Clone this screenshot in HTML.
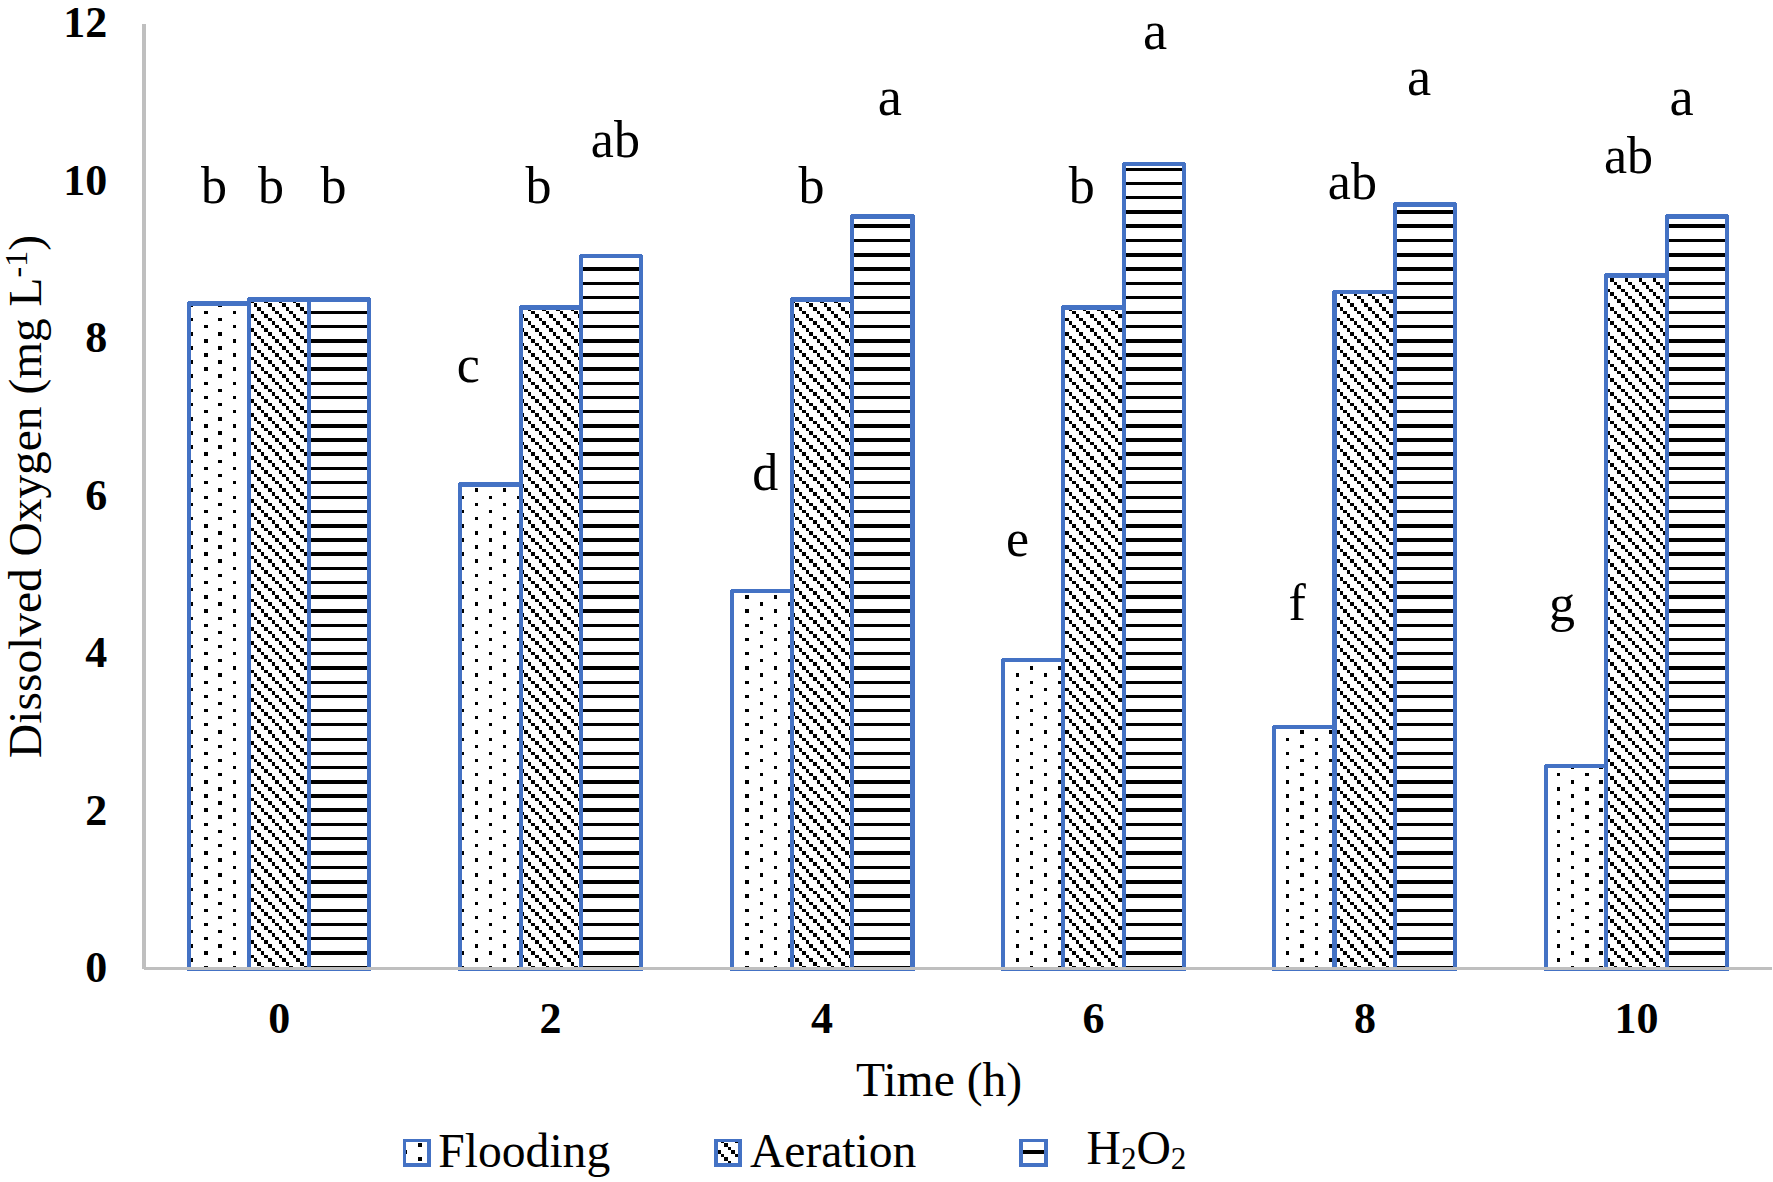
<!DOCTYPE html>
<html><head><meta charset="utf-8"><title>Dissolved Oxygen</title><style>
html,body{margin:0;padding:0;background:#fff;overflow:hidden}
svg{display:block}
text{font-family:"Liberation Serif","Times New Roman",serif;fill:#000}
.tk{font-weight:bold;font-size:44px}
.lt{font-size:52px}
.la{font-size:54.5px}
.ti{font-size:47.6px}
</style></head><body>
<svg width="1773" height="1182" viewBox="0 0 1773 1182">
<rect width="1773" height="1182" fill="#fff"/>
<rect x="142" y="24" width="4" height="945" fill="#BFBFBF"/>
<path d="M191 306h2v1h-2zM218 306h4v1h-4zM204 311h4v3h-4zM233 311h3v3h-3zM191 318h2v3h-2zM218 318h4v3h-4zM204 325h4v3h-4zM233 325h3v3h-3zM191 332h2v4h-2zM218 332h4v4h-4zM204 339h4v4h-4zM233 339h3v4h-3zM191 346h2v4h-2zM218 346h4v4h-4zM204 353h4v4h-4zM233 353h3v4h-3zM191 360h2v4h-2zM218 360h4v4h-4zM204 367h4v4h-4zM233 367h3v4h-3zM191 374h2v4h-2zM218 374h4v4h-4zM204 382h4v3h-4zM233 382h3v3h-3zM191 389h2v3h-2zM218 389h4v3h-4zM204 396h4v3h-4zM233 396h3v3h-3zM191 403h2v3h-2zM218 403h4v3h-4zM204 410h4v3h-4zM233 410h3v3h-3zM191 417h2v4h-2zM218 417h4v4h-4zM204 424h4v4h-4zM233 424h3v4h-3zM191 431h2v4h-2zM218 431h4v4h-4zM204 438h4v4h-4zM233 438h3v4h-3zM191 445h2v4h-2zM218 445h4v4h-4zM204 452h4v4h-4zM233 452h3v4h-3zM191 460h2v3h-2zM218 460h4v3h-4zM204 467h4v3h-4zM233 467h3v3h-3zM191 474h2v3h-2zM218 474h4v3h-4zM204 481h4v3h-4zM233 481h3v3h-3zM191 488h2v4h-2zM218 488h4v4h-4zM204 496h4v3h-4zM233 496h3v3h-3zM191 503h2v3h-2zM218 503h4v3h-4zM204 510h4v3h-4zM233 510h3v3h-3zM191 517h2v3h-2zM218 517h4v3h-4zM204 524h4v4h-4zM233 524h3v4h-3zM191 531h2v4h-2zM218 531h4v4h-4zM204 538h4v4h-4zM233 538h3v4h-3zM191 545h2v4h-2zM218 545h4v4h-4zM204 552h4v4h-4zM233 552h3v4h-3zM191 559h2v4h-2zM218 559h4v4h-4zM204 567h4v3h-4zM233 567h3v3h-3zM191 574h2v3h-2zM218 574h4v3h-4zM204 581h4v3h-4zM233 581h3v3h-3zM191 588h2v3h-2zM218 588h4v3h-4zM204 595h4v4h-4zM233 595h3v4h-3zM191 602h2v4h-2zM218 602h4v4h-4zM204 609h4v4h-4zM233 609h3v4h-3zM191 617h2v3h-2zM218 617h4v3h-4zM204 624h4v3h-4zM233 624h3v3h-3zM191 631h2v3h-2zM218 631h4v3h-4zM204 638h4v3h-4zM233 638h3v3h-3zM191 645h2v3h-2zM218 645h4v3h-4zM204 652h4v3h-4zM233 652h3v3h-3zM191 659h2v3h-2zM218 659h4v3h-4zM204 666h4v4h-4zM233 666h3v4h-3zM191 673h2v4h-2zM218 673h4v4h-4zM204 681h4v3h-4zM233 681h3v3h-3zM191 688h2v3h-2zM218 688h4v3h-4zM204 695h4v3h-4zM233 695h3v3h-3zM191 702h2v3h-2zM218 702h4v3h-4zM204 709h4v3h-4zM233 709h3v3h-3zM191 716h2v3h-2zM218 716h4v3h-4zM204 723h4v3h-4zM233 723h3v3h-3zM191 730h2v4h-2zM218 730h4v4h-4zM204 738h4v3h-4zM233 738h3v3h-3zM191 745h2v3h-2zM218 745h4v3h-4zM204 752h4v3h-4zM233 752h3v3h-3zM191 759h2v3h-2zM218 759h4v3h-4zM204 766h4v3h-4zM233 766h3v3h-3zM191 773h2v3h-2zM218 773h4v3h-4zM204 780h4v4h-4zM233 780h3v4h-3zM191 787h2v4h-2zM218 787h4v4h-4zM204 794h4v4h-4zM233 794h3v4h-3zM191 801h2v4h-2zM218 801h4v4h-4zM204 808h4v4h-4zM233 808h3v4h-3zM191 815h2v4h-2zM218 815h4v4h-4zM204 823h4v3h-4zM233 823h3v3h-3zM191 830h2v3h-2zM218 830h4v3h-4zM204 837h4v3h-4zM233 837h3v3h-3zM191 844h2v3h-2zM218 844h4v3h-4zM204 851h4v4h-4zM233 851h3v4h-3zM191 858h2v4h-2zM218 858h4v4h-4zM204 866h4v3h-4zM233 866h3v3h-3zM191 873h2v4h-2zM218 873h4v4h-4zM204 880h4v4h-4zM233 880h3v4h-3zM191 888h2v3h-2zM218 888h4v3h-4zM204 894h4v4h-4zM233 894h3v4h-3zM191 902h2v3h-2zM218 902h4v3h-4zM204 909h4v3h-4zM233 909h3v3h-3zM191 916h2v3h-2zM218 916h4v3h-4zM204 923h4v3h-4zM233 923h3v3h-3zM191 930h2v3h-2zM218 930h4v3h-4zM204 937h4v3h-4zM233 937h3v3h-3zM191 944h2v4h-2zM218 944h4v4h-4zM204 951h4v4h-4zM233 951h3v4h-3zM191 958h2v4h-2zM218 958h4v4h-4zM204 966h4v1h-4zM233 966h3v1h-3zM475 488h3v4h-3zM503 488h3v4h-3zM462 496h2v3h-2zM489 496h3v3h-3zM517 496h2v3h-2zM475 503h3v3h-3zM503 503h3v3h-3zM462 510h2v3h-2zM489 510h3v3h-3zM517 510h2v3h-2zM475 517h3v3h-3zM503 517h3v3h-3zM462 524h2v4h-2zM489 524h3v4h-3zM517 524h2v4h-2zM475 531h3v4h-3zM503 531h3v4h-3zM462 538h2v4h-2zM489 538h3v4h-3zM517 538h2v4h-2zM475 545h3v4h-3zM503 545h3v4h-3zM462 552h2v4h-2zM489 552h3v4h-3zM517 552h2v4h-2zM475 559h3v4h-3zM503 559h3v4h-3zM462 567h2v3h-2zM489 567h3v3h-3zM517 567h2v3h-2zM475 574h3v3h-3zM503 574h3v3h-3zM462 581h2v3h-2zM489 581h3v3h-3zM517 581h2v3h-2zM475 588h3v3h-3zM503 588h3v3h-3zM462 595h2v4h-2zM489 595h3v4h-3zM517 595h2v4h-2zM475 602h3v4h-3zM503 602h3v4h-3zM462 609h2v4h-2zM489 609h3v4h-3zM517 609h2v4h-2zM475 617h3v3h-3zM503 617h3v3h-3zM462 624h2v3h-2zM489 624h3v3h-3zM517 624h2v3h-2zM475 631h3v3h-3zM503 631h3v3h-3zM462 638h2v3h-2zM489 638h3v3h-3zM517 638h2v3h-2zM475 645h3v3h-3zM503 645h3v3h-3zM462 652h2v3h-2zM489 652h3v3h-3zM517 652h2v3h-2zM475 659h3v3h-3zM503 659h3v3h-3zM462 666h2v4h-2zM489 666h3v4h-3zM517 666h2v4h-2zM475 673h3v4h-3zM503 673h3v4h-3zM462 681h2v3h-2zM489 681h3v3h-3zM517 681h2v3h-2zM475 688h3v3h-3zM503 688h3v3h-3zM462 695h2v3h-2zM489 695h3v3h-3zM517 695h2v3h-2zM475 702h3v3h-3zM503 702h3v3h-3zM462 709h2v3h-2zM489 709h3v3h-3zM517 709h2v3h-2zM475 716h3v3h-3zM503 716h3v3h-3zM462 723h2v3h-2zM489 723h3v3h-3zM517 723h2v3h-2zM475 730h3v4h-3zM503 730h3v4h-3zM462 738h2v3h-2zM489 738h3v3h-3zM517 738h2v3h-2zM475 745h3v3h-3zM503 745h3v3h-3zM462 752h2v3h-2zM489 752h3v3h-3zM517 752h2v3h-2zM475 759h3v3h-3zM503 759h3v3h-3zM462 766h2v3h-2zM489 766h3v3h-3zM517 766h2v3h-2zM475 773h3v3h-3zM503 773h3v3h-3zM462 780h2v4h-2zM489 780h3v4h-3zM517 780h2v4h-2zM475 787h3v4h-3zM503 787h3v4h-3zM462 794h2v4h-2zM489 794h3v4h-3zM517 794h2v4h-2zM475 801h3v4h-3zM503 801h3v4h-3zM462 808h2v4h-2zM489 808h3v4h-3zM517 808h2v4h-2zM475 815h3v4h-3zM503 815h3v4h-3zM462 823h2v3h-2zM489 823h3v3h-3zM517 823h2v3h-2zM475 830h3v3h-3zM503 830h3v3h-3zM462 837h2v3h-2zM489 837h3v3h-3zM517 837h2v3h-2zM475 844h3v3h-3zM503 844h3v3h-3zM462 851h2v4h-2zM489 851h3v4h-3zM517 851h2v4h-2zM475 858h3v4h-3zM503 858h3v4h-3zM462 866h2v3h-2zM489 866h3v3h-3zM517 866h2v3h-2zM475 873h3v4h-3zM503 873h3v4h-3zM462 880h2v4h-2zM489 880h3v4h-3zM517 880h2v4h-2zM475 888h3v3h-3zM503 888h3v3h-3zM462 894h2v4h-2zM489 894h3v4h-3zM517 894h2v4h-2zM475 902h3v3h-3zM503 902h3v3h-3zM462 909h2v3h-2zM489 909h3v3h-3zM517 909h2v3h-2zM475 916h3v3h-3zM503 916h3v3h-3zM462 923h2v3h-2zM489 923h3v3h-3zM517 923h2v3h-2zM475 930h3v3h-3zM503 930h3v3h-3zM462 937h2v3h-2zM489 937h3v3h-3zM517 937h2v3h-2zM475 944h3v4h-3zM503 944h3v4h-3zM462 951h2v4h-2zM489 951h3v4h-3zM517 951h2v4h-2zM475 958h3v4h-3zM503 958h3v4h-3zM462 966h2v1h-2zM489 966h3v1h-3zM517 966h2v1h-2zM745 595h4v4h-4zM774 595h3v4h-3zM760 602h3v4h-3zM788 602h2v4h-2zM745 609h4v4h-4zM774 609h3v4h-3zM760 617h3v3h-3zM788 617h2v3h-2zM745 624h4v3h-4zM774 624h3v3h-3zM760 631h3v3h-3zM788 631h2v3h-2zM745 638h4v3h-4zM774 638h3v3h-3zM760 645h3v3h-3zM788 645h2v3h-2zM745 652h4v3h-4zM774 652h3v3h-3zM760 659h3v3h-3zM788 659h2v3h-2zM745 666h4v4h-4zM774 666h3v4h-3zM760 673h3v4h-3zM788 673h2v4h-2zM745 681h4v3h-4zM774 681h3v3h-3zM760 688h3v3h-3zM788 688h2v3h-2zM745 695h4v3h-4zM774 695h3v3h-3zM760 702h3v3h-3zM788 702h2v3h-2zM745 709h4v3h-4zM774 709h3v3h-3zM760 716h3v3h-3zM788 716h2v3h-2zM745 723h4v3h-4zM774 723h3v3h-3zM760 730h3v4h-3zM788 730h2v4h-2zM745 738h4v3h-4zM774 738h3v3h-3zM760 745h3v3h-3zM788 745h2v3h-2zM745 752h4v3h-4zM774 752h3v3h-3zM760 759h3v3h-3zM788 759h2v3h-2zM745 766h4v3h-4zM774 766h3v3h-3zM760 773h3v3h-3zM788 773h2v3h-2zM745 780h4v4h-4zM774 780h3v4h-3zM760 787h3v4h-3zM788 787h2v4h-2zM745 794h4v4h-4zM774 794h3v4h-3zM760 801h3v4h-3zM788 801h2v4h-2zM745 808h4v4h-4zM774 808h3v4h-3zM760 815h3v4h-3zM788 815h2v4h-2zM745 823h4v3h-4zM774 823h3v3h-3zM760 830h3v3h-3zM788 830h2v3h-2zM745 837h4v3h-4zM774 837h3v3h-3zM760 844h3v3h-3zM788 844h2v3h-2zM745 851h4v4h-4zM774 851h3v4h-3zM760 858h3v4h-3zM788 858h2v4h-2zM745 866h4v3h-4zM774 866h3v3h-3zM760 873h3v4h-3zM788 873h2v4h-2zM745 880h4v4h-4zM774 880h3v4h-3zM760 888h3v3h-3zM788 888h2v3h-2zM745 894h4v4h-4zM774 894h3v4h-3zM760 902h3v3h-3zM788 902h2v3h-2zM745 909h4v3h-4zM774 909h3v3h-3zM760 916h3v3h-3zM788 916h2v3h-2zM745 923h4v3h-4zM774 923h3v3h-3zM760 930h3v3h-3zM788 930h2v3h-2zM745 937h4v3h-4zM774 937h3v3h-3zM760 944h3v4h-3zM788 944h2v4h-2zM745 951h4v4h-4zM774 951h3v4h-3zM760 958h3v4h-3zM788 958h2v4h-2zM745 966h4v1h-4zM774 966h3v1h-3zM1030 666h3v4h-3zM1058 666h3v4h-3zM1016 673h3v4h-3zM1044 673h3v4h-3zM1030 681h3v3h-3zM1058 681h3v3h-3zM1016 688h3v3h-3zM1044 688h3v3h-3zM1030 695h3v3h-3zM1058 695h3v3h-3zM1016 702h3v3h-3zM1044 702h3v3h-3zM1030 709h3v3h-3zM1058 709h3v3h-3zM1016 716h3v3h-3zM1044 716h3v3h-3zM1030 723h3v3h-3zM1058 723h3v3h-3zM1016 730h3v4h-3zM1044 730h3v4h-3zM1030 738h3v3h-3zM1058 738h3v3h-3zM1016 745h3v3h-3zM1044 745h3v3h-3zM1030 752h3v3h-3zM1058 752h3v3h-3zM1016 759h3v3h-3zM1044 759h3v3h-3zM1030 766h3v3h-3zM1058 766h3v3h-3zM1016 773h3v3h-3zM1044 773h3v3h-3zM1030 780h3v4h-3zM1058 780h3v4h-3zM1016 787h3v4h-3zM1044 787h3v4h-3zM1030 794h3v4h-3zM1058 794h3v4h-3zM1016 801h3v4h-3zM1044 801h3v4h-3zM1030 808h3v4h-3zM1058 808h3v4h-3zM1016 815h3v4h-3zM1044 815h3v4h-3zM1030 823h3v3h-3zM1058 823h3v3h-3zM1016 830h3v3h-3zM1044 830h3v3h-3zM1030 837h3v3h-3zM1058 837h3v3h-3zM1016 844h3v3h-3zM1044 844h3v3h-3zM1030 851h3v4h-3zM1058 851h3v4h-3zM1016 858h3v4h-3zM1044 858h3v4h-3zM1030 866h3v3h-3zM1058 866h3v3h-3zM1016 873h3v4h-3zM1044 873h3v4h-3zM1030 880h3v4h-3zM1058 880h3v4h-3zM1016 888h3v3h-3zM1044 888h3v3h-3zM1030 894h3v4h-3zM1058 894h3v4h-3zM1016 902h3v3h-3zM1044 902h3v3h-3zM1030 909h3v3h-3zM1058 909h3v3h-3zM1016 916h3v3h-3zM1044 916h3v3h-3zM1030 923h3v3h-3zM1058 923h3v3h-3zM1016 930h3v3h-3zM1044 930h3v3h-3zM1030 937h3v3h-3zM1058 937h3v3h-3zM1016 944h3v4h-3zM1044 944h3v4h-3zM1030 951h3v4h-3zM1058 951h3v4h-3zM1016 958h3v4h-3zM1044 958h3v4h-3zM1030 966h3v1h-3zM1058 966h3v1h-3zM1300 730h4v4h-4zM1329 730h3v4h-3zM1286 738h3v3h-3zM1315 738h3v3h-3zM1300 745h4v3h-4zM1329 745h3v3h-3zM1286 752h3v3h-3zM1315 752h3v3h-3zM1300 759h4v3h-4zM1329 759h3v3h-3zM1286 766h3v3h-3zM1315 766h3v3h-3zM1300 773h4v3h-4zM1329 773h3v3h-3zM1286 780h3v4h-3zM1315 780h3v4h-3zM1300 787h4v4h-4zM1329 787h3v4h-3zM1286 794h3v4h-3zM1315 794h3v4h-3zM1300 801h4v4h-4zM1329 801h3v4h-3zM1286 808h3v4h-3zM1315 808h3v4h-3zM1300 815h4v4h-4zM1329 815h3v4h-3zM1286 823h3v3h-3zM1315 823h3v3h-3zM1300 830h4v3h-4zM1329 830h3v3h-3zM1286 837h3v3h-3zM1315 837h3v3h-3zM1300 844h4v3h-4zM1329 844h3v3h-3zM1286 851h3v4h-3zM1315 851h3v4h-3zM1300 858h4v4h-4zM1329 858h3v4h-3zM1286 866h3v3h-3zM1315 866h3v3h-3zM1300 873h4v4h-4zM1329 873h3v4h-3zM1286 880h3v4h-3zM1315 880h3v4h-3zM1300 888h4v3h-4zM1329 888h3v3h-3zM1286 894h3v4h-3zM1315 894h3v4h-3zM1300 902h4v3h-4zM1329 902h3v3h-3zM1286 909h3v3h-3zM1315 909h3v3h-3zM1300 916h4v3h-4zM1329 916h3v3h-3zM1286 923h3v3h-3zM1315 923h3v3h-3zM1300 930h4v3h-4zM1329 930h3v3h-3zM1286 937h3v3h-3zM1315 937h3v3h-3zM1300 944h4v4h-4zM1329 944h3v4h-3zM1286 951h3v4h-3zM1315 951h3v4h-3zM1300 958h4v4h-4zM1329 958h3v4h-3zM1286 966h3v1h-3zM1315 966h3v1h-3zM1571 768h3v1h-3zM1599 768h4v1h-4zM1557 773h3v3h-3zM1585 773h4v3h-4zM1571 780h3v4h-3zM1599 780h4v4h-4zM1557 787h3v4h-3zM1585 787h4v4h-4zM1571 794h3v4h-3zM1599 794h4v4h-4zM1557 801h3v4h-3zM1585 801h4v4h-4zM1571 808h3v4h-3zM1599 808h4v4h-4zM1557 815h3v4h-3zM1585 815h4v4h-4zM1571 823h3v3h-3zM1599 823h4v3h-4zM1557 830h3v3h-3zM1585 830h4v3h-4zM1571 837h3v3h-3zM1599 837h4v3h-4zM1557 844h3v3h-3zM1585 844h4v3h-4zM1571 851h3v4h-3zM1599 851h4v4h-4zM1557 858h3v4h-3zM1585 858h4v4h-4zM1571 866h3v3h-3zM1599 866h4v3h-4zM1557 873h3v4h-3zM1585 873h4v4h-4zM1571 880h3v4h-3zM1599 880h4v4h-4zM1557 888h3v3h-3zM1585 888h4v3h-4zM1571 894h3v4h-3zM1599 894h4v4h-4zM1557 902h3v3h-3zM1585 902h4v3h-4zM1571 909h3v3h-3zM1599 909h4v3h-4zM1557 916h3v3h-3zM1585 916h4v3h-4zM1571 923h3v3h-3zM1599 923h4v3h-4zM1557 930h3v3h-3zM1585 930h4v3h-4zM1571 937h3v3h-3zM1599 937h4v3h-4zM1557 944h3v4h-3zM1585 944h4v4h-4zM1571 951h3v4h-3zM1599 951h4v4h-4zM1557 958h3v4h-3zM1585 958h4v4h-4zM1571 966h3v1h-3zM1599 966h4v1h-4z" fill="#000"/>
<path d="M251 302h3v1h-3zM264 302h4v1h-4zM279 302h3v1h-3zM293 302h3v1h-3zM254 303h3v4h-3zM268 303h4v4h-4zM282 303h4v4h-4zM296 303h4v4h-4zM257 307h4v4h-4zM272 307h3v4h-3zM286 307h3v4h-3zM300 307h4v4h-4zM261 311h3v3h-3zM275 311h4v3h-4zM289 311h4v3h-4zM304 311h3v3h-3zM251 314h3v4h-3zM264 314h4v4h-4zM279 314h3v4h-3zM293 314h3v4h-3zM254 318h3v3h-3zM268 318h4v3h-4zM282 318h4v3h-4zM296 318h4v3h-4zM257 321h4v4h-4zM272 321h3v4h-3zM286 321h3v4h-3zM300 321h4v4h-4zM261 325h3v3h-3zM275 325h4v3h-4zM289 325h4v3h-4zM304 325h3v3h-3zM251 328h3v4h-3zM264 328h4v4h-4zM279 328h3v4h-3zM293 328h3v4h-3zM254 332h3v4h-3zM268 332h4v4h-4zM282 332h4v4h-4zM296 332h4v4h-4zM257 336h4v3h-4zM272 336h3v3h-3zM286 336h3v3h-3zM300 336h4v3h-4zM261 339h3v4h-3zM275 339h4v4h-4zM289 339h4v4h-4zM304 339h3v4h-3zM251 343h3v3h-3zM264 343h4v3h-4zM279 343h3v3h-3zM293 343h3v3h-3zM254 346h3v4h-3zM268 346h4v4h-4zM282 346h4v4h-4zM296 346h4v4h-4zM257 350h4v3h-4zM272 350h3v3h-3zM286 350h3v3h-3zM300 350h4v3h-4zM261 353h3v4h-3zM275 353h4v4h-4zM289 353h4v4h-4zM304 353h3v4h-3zM251 357h3v3h-3zM264 357h4v3h-4zM279 357h3v3h-3zM293 357h3v3h-3zM254 360h3v4h-3zM268 360h4v4h-4zM282 360h4v4h-4zM296 360h4v4h-4zM257 364h4v3h-4zM272 364h3v3h-3zM286 364h3v3h-3zM300 364h4v3h-4zM261 367h3v4h-3zM275 367h4v4h-4zM289 367h4v4h-4zM304 367h3v4h-3zM251 371h3v3h-3zM264 371h4v3h-4zM279 371h3v3h-3zM293 371h3v3h-3zM254 374h3v4h-3zM268 374h4v4h-4zM282 374h4v4h-4zM296 374h4v4h-4zM257 378h4v4h-4zM272 378h3v4h-3zM286 378h3v4h-3zM300 378h4v4h-4zM261 382h3v3h-3zM275 382h4v3h-4zM289 382h4v3h-4zM304 382h3v3h-3zM251 385h3v4h-3zM264 385h4v4h-4zM279 385h3v4h-3zM293 385h3v4h-3zM254 389h3v3h-3zM268 389h4v3h-4zM282 389h4v3h-4zM296 389h4v3h-4zM257 392h4v4h-4zM272 392h3v4h-3zM286 392h3v4h-3zM300 392h4v4h-4zM261 396h3v3h-3zM275 396h4v3h-4zM289 396h4v3h-4zM304 396h3v3h-3zM251 399h3v4h-3zM264 399h4v4h-4zM279 399h3v4h-3zM293 399h3v4h-3zM254 403h3v3h-3zM268 403h4v3h-4zM282 403h4v3h-4zM296 403h4v3h-4zM257 406h4v4h-4zM272 406h3v4h-3zM286 406h3v4h-3zM300 406h4v4h-4zM261 410h3v3h-3zM275 410h4v3h-4zM289 410h4v3h-4zM304 410h3v3h-3zM251 413h3v4h-3zM264 413h4v4h-4zM279 413h3v4h-3zM293 413h3v4h-3zM254 417h3v4h-3zM268 417h4v4h-4zM282 417h4v4h-4zM296 417h4v4h-4zM257 421h4v3h-4zM272 421h3v3h-3zM286 421h3v3h-3zM300 421h4v3h-4zM261 424h3v4h-3zM275 424h4v4h-4zM289 424h4v4h-4zM304 424h3v4h-3zM251 428h3v3h-3zM264 428h4v3h-4zM279 428h3v3h-3zM293 428h3v3h-3zM254 431h3v4h-3zM268 431h4v4h-4zM282 431h4v4h-4zM296 431h4v4h-4zM257 435h4v3h-4zM272 435h3v3h-3zM286 435h3v3h-3zM300 435h4v3h-4zM261 438h3v4h-3zM275 438h4v4h-4zM289 438h4v4h-4zM304 438h3v4h-3zM251 442h3v3h-3zM264 442h4v3h-4zM279 442h3v3h-3zM293 442h3v3h-3zM254 445h3v4h-3zM268 445h4v4h-4zM282 445h4v4h-4zM296 445h4v4h-4zM257 449h4v3h-4zM272 449h3v3h-3zM286 449h3v3h-3zM300 449h4v3h-4zM261 452h3v4h-3zM275 452h4v4h-4zM289 452h4v4h-4zM304 452h3v4h-3zM251 456h3v4h-3zM264 456h4v4h-4zM279 456h3v4h-3zM293 456h3v4h-3zM254 460h3v3h-3zM268 460h4v3h-4zM282 460h4v3h-4zM296 460h4v3h-4zM257 463h4v4h-4zM272 463h3v4h-3zM286 463h3v4h-3zM300 463h4v4h-4zM261 467h3v3h-3zM275 467h4v3h-4zM289 467h4v3h-4zM304 467h3v3h-3zM251 470h3v4h-3zM264 470h4v4h-4zM279 470h3v4h-3zM293 470h3v4h-3zM254 474h3v3h-3zM268 474h4v3h-4zM282 474h4v3h-4zM296 474h4v3h-4zM257 477h4v4h-4zM272 477h3v4h-3zM286 477h3v4h-3zM300 477h4v4h-4zM261 481h3v3h-3zM275 481h4v3h-4zM289 481h4v3h-4zM304 481h3v3h-3zM251 484h3v4h-3zM264 484h4v4h-4zM279 484h3v4h-3zM293 484h3v4h-3zM254 488h3v4h-3zM268 488h4v4h-4zM282 488h4v4h-4zM296 488h4v4h-4zM257 492h4v4h-4zM272 492h3v4h-3zM286 492h3v4h-3zM300 492h4v4h-4zM261 496h3v3h-3zM275 496h4v3h-4zM289 496h4v3h-4zM304 496h3v3h-3zM251 499h3v4h-3zM264 499h4v4h-4zM279 499h3v4h-3zM293 499h3v4h-3zM254 503h3v3h-3zM268 503h4v3h-4zM282 503h4v3h-4zM296 503h4v3h-4zM257 506h4v4h-4zM272 506h3v4h-3zM286 506h3v4h-3zM300 506h4v4h-4zM261 510h3v3h-3zM275 510h4v3h-4zM289 510h4v3h-4zM304 510h3v3h-3zM251 513h3v4h-3zM264 513h4v4h-4zM279 513h3v4h-3zM293 513h3v4h-3zM254 517h3v3h-3zM268 517h4v3h-4zM282 517h4v3h-4zM296 517h4v3h-4zM257 520h4v4h-4zM272 520h3v4h-3zM286 520h3v4h-3zM300 520h4v4h-4zM261 524h3v4h-3zM275 524h4v4h-4zM289 524h4v4h-4zM304 524h3v4h-3zM251 528h3v3h-3zM264 528h4v3h-4zM279 528h3v3h-3zM293 528h3v3h-3zM254 531h3v4h-3zM268 531h4v4h-4zM282 531h4v4h-4zM296 531h4v4h-4zM257 535h4v3h-4zM272 535h3v3h-3zM286 535h3v3h-3zM300 535h4v3h-4zM261 538h3v4h-3zM275 538h4v4h-4zM289 538h4v4h-4zM304 538h3v4h-3zM251 542h3v3h-3zM264 542h4v3h-4zM279 542h3v3h-3zM293 542h3v3h-3zM254 545h3v4h-3zM268 545h4v4h-4zM282 545h4v4h-4zM296 545h4v4h-4zM257 549h4v3h-4zM272 549h3v3h-3zM286 549h3v3h-3zM300 549h4v3h-4zM261 552h3v4h-3zM275 552h4v4h-4zM289 552h4v4h-4zM304 552h3v4h-3zM251 556h3v3h-3zM264 556h4v3h-4zM279 556h3v3h-3zM293 556h3v3h-3zM254 559h3v4h-3zM268 559h4v4h-4zM282 559h4v4h-4zM296 559h4v4h-4zM257 563h4v4h-4zM272 563h3v4h-3zM286 563h3v4h-3zM300 563h4v4h-4zM261 567h3v3h-3zM275 567h4v3h-4zM289 567h4v3h-4zM304 567h3v3h-3zM251 570h3v4h-3zM264 570h4v4h-4zM279 570h3v4h-3zM293 570h3v4h-3zM254 574h3v3h-3zM268 574h4v3h-4zM282 574h4v3h-4zM296 574h4v3h-4zM257 577h4v4h-4zM272 577h3v4h-3zM286 577h3v4h-3zM300 577h4v4h-4zM261 581h3v3h-3zM275 581h4v3h-4zM289 581h4v3h-4zM304 581h3v3h-3zM251 584h3v4h-3zM264 584h4v4h-4zM279 584h3v4h-3zM293 584h3v4h-3zM254 588h3v3h-3zM268 588h4v3h-4zM282 588h4v3h-4zM296 588h4v3h-4zM257 591h4v4h-4zM272 591h3v4h-3zM286 591h3v4h-3zM300 591h4v4h-4zM261 595h3v4h-3zM275 595h4v4h-4zM289 595h4v4h-4zM304 595h3v4h-3zM251 599h3v3h-3zM264 599h4v3h-4zM279 599h3v3h-3zM293 599h3v3h-3zM254 602h3v4h-3zM268 602h4v4h-4zM282 602h4v4h-4zM296 602h4v4h-4zM257 606h4v3h-4zM272 606h3v3h-3zM286 606h3v3h-3zM300 606h4v3h-4zM261 609h3v4h-3zM275 609h4v4h-4zM289 609h4v4h-4zM304 609h3v4h-3zM251 613h3v4h-3zM264 613h4v4h-4zM279 613h3v4h-3zM293 613h3v4h-3zM254 617h3v3h-3zM268 617h4v3h-4zM282 617h4v3h-4zM296 617h4v3h-4zM257 620h4v4h-4zM272 620h3v4h-3zM286 620h3v4h-3zM300 620h4v4h-4zM261 624h3v3h-3zM275 624h4v3h-4zM289 624h4v3h-4zM304 624h3v3h-3zM251 627h3v4h-3zM264 627h4v4h-4zM279 627h3v4h-3zM293 627h3v4h-3zM254 631h3v3h-3zM268 631h4v3h-4zM282 631h4v3h-4zM296 631h4v3h-4zM257 634h4v4h-4zM272 634h3v4h-3zM286 634h3v4h-3zM300 634h4v4h-4zM261 638h3v3h-3zM275 638h4v3h-4zM289 638h4v3h-4zM304 638h3v3h-3zM251 641h3v4h-3zM264 641h4v4h-4zM279 641h3v4h-3zM293 641h3v4h-3zM254 645h3v3h-3zM268 645h4v3h-4zM282 645h4v3h-4zM296 645h4v3h-4zM257 648h4v4h-4zM272 648h3v4h-3zM286 648h3v4h-3zM300 648h4v4h-4zM261 652h3v3h-3zM275 652h4v3h-4zM289 652h4v3h-4zM304 652h3v3h-3zM251 655h3v4h-3zM264 655h4v4h-4zM279 655h3v4h-3zM293 655h3v4h-3zM254 659h3v3h-3zM268 659h4v3h-4zM282 659h4v3h-4zM296 659h4v3h-4zM257 662h4v4h-4zM272 662h3v4h-3zM286 662h3v4h-3zM300 662h4v4h-4zM261 666h3v4h-3zM275 666h4v4h-4zM289 666h4v4h-4zM304 666h3v4h-3zM251 670h3v3h-3zM264 670h4v3h-4zM279 670h3v3h-3zM293 670h3v3h-3zM254 673h3v4h-3zM268 673h4v4h-4zM282 673h4v4h-4zM296 673h4v4h-4zM257 677h4v4h-4zM272 677h3v4h-3zM286 677h3v4h-3zM300 677h4v4h-4zM261 681h3v3h-3zM275 681h4v3h-4zM289 681h4v3h-4zM304 681h3v3h-3zM251 684h3v4h-3zM264 684h4v4h-4zM279 684h3v4h-3zM293 684h3v4h-3zM254 688h3v3h-3zM268 688h4v3h-4zM282 688h4v3h-4zM296 688h4v3h-4zM257 691h4v4h-4zM272 691h3v4h-3zM286 691h3v4h-3zM300 691h4v4h-4zM261 695h3v3h-3zM275 695h4v3h-4zM289 695h4v3h-4zM304 695h3v3h-3zM251 698h3v4h-3zM264 698h4v4h-4zM279 698h3v4h-3zM293 698h3v4h-3zM254 702h3v3h-3zM268 702h4v3h-4zM282 702h4v3h-4zM296 702h4v3h-4zM257 705h4v4h-4zM272 705h3v4h-3zM286 705h3v4h-3zM300 705h4v4h-4zM261 709h3v3h-3zM275 709h4v3h-4zM289 709h4v3h-4zM304 709h3v3h-3zM251 712h3v4h-3zM264 712h4v4h-4zM279 712h3v4h-3zM293 712h3v4h-3zM254 716h3v3h-3zM268 716h4v3h-4zM282 716h4v3h-4zM296 716h4v3h-4zM257 719h4v4h-4zM272 719h3v4h-3zM286 719h3v4h-3zM300 719h4v4h-4zM261 723h3v3h-3zM275 723h4v3h-4zM289 723h4v3h-4zM304 723h3v3h-3zM251 726h3v4h-3zM264 726h4v4h-4zM279 726h3v4h-3zM293 726h3v4h-3zM254 730h3v4h-3zM268 730h4v4h-4zM282 730h4v4h-4zM296 730h4v4h-4zM257 734h4v4h-4zM272 734h3v4h-3zM286 734h3v4h-3zM300 734h4v4h-4zM261 738h3v3h-3zM275 738h4v3h-4zM289 738h4v3h-4zM304 738h3v3h-3zM251 741h3v4h-3zM264 741h4v4h-4zM279 741h3v4h-3zM293 741h3v4h-3zM254 745h3v3h-3zM268 745h4v3h-4zM282 745h4v3h-4zM296 745h4v3h-4zM257 748h4v4h-4zM272 748h3v4h-3zM286 748h3v4h-3zM300 748h4v4h-4zM261 752h3v3h-3zM275 752h4v3h-4zM289 752h4v3h-4zM304 752h3v3h-3zM251 755h3v4h-3zM264 755h4v4h-4zM279 755h3v4h-3zM293 755h3v4h-3zM254 759h3v3h-3zM268 759h4v3h-4zM282 759h4v3h-4zM296 759h4v3h-4zM257 762h4v4h-4zM272 762h3v4h-3zM286 762h3v4h-3zM300 762h4v4h-4zM261 766h3v3h-3zM275 766h4v3h-4zM289 766h4v3h-4zM304 766h3v3h-3zM251 769h3v4h-3zM264 769h4v4h-4zM279 769h3v4h-3zM293 769h3v4h-3zM254 773h3v3h-3zM268 773h4v3h-4zM282 773h4v3h-4zM296 773h4v3h-4zM257 776h4v4h-4zM272 776h3v4h-3zM286 776h3v4h-3zM300 776h4v4h-4zM261 780h3v4h-3zM275 780h4v4h-4zM289 780h4v4h-4zM304 780h3v4h-3zM251 784h3v3h-3zM264 784h4v3h-4zM279 784h3v3h-3zM293 784h3v3h-3zM254 787h3v4h-3zM268 787h4v4h-4zM282 787h4v4h-4zM296 787h4v4h-4zM257 791h4v3h-4zM272 791h3v3h-3zM286 791h3v3h-3zM300 791h4v3h-4zM261 794h3v4h-3zM275 794h4v4h-4zM289 794h4v4h-4zM304 794h3v4h-3zM251 798h3v3h-3zM264 798h4v3h-4zM279 798h3v3h-3zM293 798h3v3h-3zM254 801h3v4h-3zM268 801h4v4h-4zM282 801h4v4h-4zM296 801h4v4h-4zM257 805h4v3h-4zM272 805h3v3h-3zM286 805h3v3h-3zM300 805h4v3h-4zM261 808h3v4h-3zM275 808h4v4h-4zM289 808h4v4h-4zM304 808h3v4h-3zM251 812h3v3h-3zM264 812h4v3h-4zM279 812h3v3h-3zM293 812h3v3h-3zM254 815h3v4h-3zM268 815h4v4h-4zM282 815h4v4h-4zM296 815h4v4h-4zM257 819h4v4h-4zM272 819h3v4h-3zM286 819h3v4h-3zM300 819h4v4h-4zM261 823h3v3h-3zM275 823h4v3h-4zM289 823h4v3h-4zM304 823h3v3h-3zM251 826h3v4h-3zM264 826h4v4h-4zM279 826h3v4h-3zM293 826h3v4h-3zM254 830h3v3h-3zM268 830h4v3h-4zM282 830h4v3h-4zM296 830h4v3h-4zM257 833h4v4h-4zM272 833h3v4h-3zM286 833h3v4h-3zM300 833h4v4h-4zM261 837h3v3h-3zM275 837h4v3h-4zM289 837h4v3h-4zM304 837h3v3h-3zM251 840h3v4h-3zM264 840h4v4h-4zM279 840h3v4h-3zM293 840h3v4h-3zM254 844h3v3h-3zM268 844h4v3h-4zM282 844h4v3h-4zM296 844h4v3h-4zM257 847h4v4h-4zM272 847h3v4h-3zM286 847h3v4h-3zM300 847h4v4h-4zM261 851h3v4h-3zM275 851h4v4h-4zM289 851h4v4h-4zM304 851h3v4h-3zM251 855h3v3h-3zM264 855h4v3h-4zM279 855h3v3h-3zM293 855h3v3h-3zM254 858h3v4h-3zM268 858h4v4h-4zM282 858h4v4h-4zM296 858h4v4h-4zM257 862h4v4h-4zM272 862h3v4h-3zM286 862h3v4h-3zM300 862h4v4h-4zM261 866h3v3h-3zM275 866h4v3h-4zM289 866h4v3h-4zM304 866h3v3h-3zM251 869h3v4h-3zM264 869h4v4h-4zM279 869h3v4h-3zM293 869h3v4h-3zM254 873h3v4h-3zM268 873h4v4h-4zM282 873h4v4h-4zM296 873h4v4h-4zM257 877h4v3h-4zM272 877h3v3h-3zM286 877h3v3h-3zM300 877h4v3h-4zM261 880h3v4h-3zM275 880h4v4h-4zM289 880h4v4h-4zM304 880h3v4h-3zM251 884h3v4h-3zM264 884h4v4h-4zM279 884h3v4h-3zM293 884h3v4h-3zM254 888h3v3h-3zM268 888h4v3h-4zM282 888h4v3h-4zM296 888h4v3h-4zM257 891h4v3h-4zM272 891h3v3h-3zM286 891h3v3h-3zM300 891h4v3h-4zM261 894h3v4h-3zM275 894h4v4h-4zM289 894h4v4h-4zM304 894h3v4h-3zM251 898h3v4h-3zM264 898h4v4h-4zM279 898h3v4h-3zM293 898h3v4h-3zM254 902h3v3h-3zM268 902h4v3h-4zM282 902h4v3h-4zM296 902h4v3h-4zM257 905h4v4h-4zM272 905h3v4h-3zM286 905h3v4h-3zM300 905h4v4h-4zM261 909h3v3h-3zM275 909h4v3h-4zM289 909h4v3h-4zM304 909h3v3h-3zM251 912h3v4h-3zM264 912h4v4h-4zM279 912h3v4h-3zM293 912h3v4h-3zM254 916h3v3h-3zM268 916h4v3h-4zM282 916h4v3h-4zM296 916h4v3h-4zM257 919h4v4h-4zM272 919h3v4h-3zM286 919h3v4h-3zM300 919h4v4h-4zM261 923h3v3h-3zM275 923h4v3h-4zM289 923h4v3h-4zM304 923h3v3h-3zM251 926h3v4h-3zM264 926h4v4h-4zM279 926h3v4h-3zM293 926h3v4h-3zM254 930h3v3h-3zM268 930h4v3h-4zM282 930h4v3h-4zM296 930h4v3h-4zM257 933h4v4h-4zM272 933h3v4h-3zM286 933h3v4h-3zM300 933h4v4h-4zM261 937h3v3h-3zM275 937h4v3h-4zM289 937h4v3h-4zM304 937h3v3h-3zM251 940h3v4h-3zM264 940h4v4h-4zM279 940h3v4h-3zM293 940h3v4h-3zM254 944h3v4h-3zM268 944h4v4h-4zM282 944h4v4h-4zM296 944h4v4h-4zM257 948h4v3h-4zM272 948h3v3h-3zM286 948h3v3h-3zM300 948h4v3h-4zM261 951h3v4h-3zM275 951h4v4h-4zM289 951h4v4h-4zM304 951h3v4h-3zM251 955h3v3h-3zM264 955h4v3h-4zM279 955h3v3h-3zM293 955h3v3h-3zM254 958h3v4h-3zM268 958h4v4h-4zM282 958h4v4h-4zM296 958h4v4h-4zM257 962h4v4h-4zM272 962h3v4h-3zM286 962h3v4h-3zM300 962h4v4h-4zM261 966h3v1h-3zM275 966h4v1h-4zM289 966h4v1h-4zM304 966h3v1h-3zM528 310h3v1h-3zM542 310h4v1h-4zM556 310h4v1h-4zM571 310h3v1h-3zM531 311h4v3h-4zM546 311h3v3h-3zM560 311h3v3h-3zM574 311h4v3h-4zM523 314h1v4h-1zM535 314h4v4h-4zM549 314h4v4h-4zM563 314h4v4h-4zM578 314h1v4h-1zM524 318h4v3h-4zM539 318h3v3h-3zM553 318h3v3h-3zM567 318h4v3h-4zM528 321h3v4h-3zM542 321h4v4h-4zM556 321h4v4h-4zM571 321h3v4h-3zM531 325h4v3h-4zM546 325h3v3h-3zM560 325h3v3h-3zM574 325h4v3h-4zM523 328h1v4h-1zM535 328h4v4h-4zM549 328h4v4h-4zM563 328h4v4h-4zM578 328h1v4h-1zM524 332h4v4h-4zM539 332h3v4h-3zM553 332h3v4h-3zM567 332h4v4h-4zM528 336h3v3h-3zM542 336h4v3h-4zM556 336h4v3h-4zM571 336h3v3h-3zM531 339h4v4h-4zM546 339h3v4h-3zM560 339h3v4h-3zM574 339h4v4h-4zM523 343h1v3h-1zM535 343h4v3h-4zM549 343h4v3h-4zM563 343h4v3h-4zM578 343h1v3h-1zM524 346h4v4h-4zM539 346h3v4h-3zM553 346h3v4h-3zM567 346h4v4h-4zM528 350h3v3h-3zM542 350h4v3h-4zM556 350h4v3h-4zM571 350h3v3h-3zM531 353h4v4h-4zM546 353h3v4h-3zM560 353h3v4h-3zM574 353h4v4h-4zM523 357h1v3h-1zM535 357h4v3h-4zM549 357h4v3h-4zM563 357h4v3h-4zM578 357h1v3h-1zM524 360h4v4h-4zM539 360h3v4h-3zM553 360h3v4h-3zM567 360h4v4h-4zM528 364h3v3h-3zM542 364h4v3h-4zM556 364h4v3h-4zM571 364h3v3h-3zM531 367h4v4h-4zM546 367h3v4h-3zM560 367h3v4h-3zM574 367h4v4h-4zM523 371h1v3h-1zM535 371h4v3h-4zM549 371h4v3h-4zM563 371h4v3h-4zM578 371h1v3h-1zM524 374h4v4h-4zM539 374h3v4h-3zM553 374h3v4h-3zM567 374h4v4h-4zM528 378h3v4h-3zM542 378h4v4h-4zM556 378h4v4h-4zM571 378h3v4h-3zM531 382h4v3h-4zM546 382h3v3h-3zM560 382h3v3h-3zM574 382h4v3h-4zM523 385h1v4h-1zM535 385h4v4h-4zM549 385h4v4h-4zM563 385h4v4h-4zM578 385h1v4h-1zM524 389h4v3h-4zM539 389h3v3h-3zM553 389h3v3h-3zM567 389h4v3h-4zM528 392h3v4h-3zM542 392h4v4h-4zM556 392h4v4h-4zM571 392h3v4h-3zM531 396h4v3h-4zM546 396h3v3h-3zM560 396h3v3h-3zM574 396h4v3h-4zM523 399h1v4h-1zM535 399h4v4h-4zM549 399h4v4h-4zM563 399h4v4h-4zM578 399h1v4h-1zM524 403h4v3h-4zM539 403h3v3h-3zM553 403h3v3h-3zM567 403h4v3h-4zM528 406h3v4h-3zM542 406h4v4h-4zM556 406h4v4h-4zM571 406h3v4h-3zM531 410h4v3h-4zM546 410h3v3h-3zM560 410h3v3h-3zM574 410h4v3h-4zM523 413h1v4h-1zM535 413h4v4h-4zM549 413h4v4h-4zM563 413h4v4h-4zM578 413h1v4h-1zM524 417h4v4h-4zM539 417h3v4h-3zM553 417h3v4h-3zM567 417h4v4h-4zM528 421h3v3h-3zM542 421h4v3h-4zM556 421h4v3h-4zM571 421h3v3h-3zM531 424h4v4h-4zM546 424h3v4h-3zM560 424h3v4h-3zM574 424h4v4h-4zM523 428h1v3h-1zM535 428h4v3h-4zM549 428h4v3h-4zM563 428h4v3h-4zM578 428h1v3h-1zM524 431h4v4h-4zM539 431h3v4h-3zM553 431h3v4h-3zM567 431h4v4h-4zM528 435h3v3h-3zM542 435h4v3h-4zM556 435h4v3h-4zM571 435h3v3h-3zM531 438h4v4h-4zM546 438h3v4h-3zM560 438h3v4h-3zM574 438h4v4h-4zM523 442h1v3h-1zM535 442h4v3h-4zM549 442h4v3h-4zM563 442h4v3h-4zM578 442h1v3h-1zM524 445h4v4h-4zM539 445h3v4h-3zM553 445h3v4h-3zM567 445h4v4h-4zM528 449h3v3h-3zM542 449h4v3h-4zM556 449h4v3h-4zM571 449h3v3h-3zM531 452h4v4h-4zM546 452h3v4h-3zM560 452h3v4h-3zM574 452h4v4h-4zM523 456h1v4h-1zM535 456h4v4h-4zM549 456h4v4h-4zM563 456h4v4h-4zM578 456h1v4h-1zM524 460h4v3h-4zM539 460h3v3h-3zM553 460h3v3h-3zM567 460h4v3h-4zM528 463h3v4h-3zM542 463h4v4h-4zM556 463h4v4h-4zM571 463h3v4h-3zM531 467h4v3h-4zM546 467h3v3h-3zM560 467h3v3h-3zM574 467h4v3h-4zM523 470h1v4h-1zM535 470h4v4h-4zM549 470h4v4h-4zM563 470h4v4h-4zM578 470h1v4h-1zM524 474h4v3h-4zM539 474h3v3h-3zM553 474h3v3h-3zM567 474h4v3h-4zM528 477h3v4h-3zM542 477h4v4h-4zM556 477h4v4h-4zM571 477h3v4h-3zM531 481h4v3h-4zM546 481h3v3h-3zM560 481h3v3h-3zM574 481h4v3h-4zM523 484h1v4h-1zM535 484h4v4h-4zM549 484h4v4h-4zM563 484h4v4h-4zM578 484h1v4h-1zM524 488h4v4h-4zM539 488h3v4h-3zM553 488h3v4h-3zM567 488h4v4h-4zM528 492h3v4h-3zM542 492h4v4h-4zM556 492h4v4h-4zM571 492h3v4h-3zM531 496h4v3h-4zM546 496h3v3h-3zM560 496h3v3h-3zM574 496h4v3h-4zM523 499h1v4h-1zM535 499h4v4h-4zM549 499h4v4h-4zM563 499h4v4h-4zM578 499h1v4h-1zM524 503h4v3h-4zM539 503h3v3h-3zM553 503h3v3h-3zM567 503h4v3h-4zM528 506h3v4h-3zM542 506h4v4h-4zM556 506h4v4h-4zM571 506h3v4h-3zM531 510h4v3h-4zM546 510h3v3h-3zM560 510h3v3h-3zM574 510h4v3h-4zM523 513h1v4h-1zM535 513h4v4h-4zM549 513h4v4h-4zM563 513h4v4h-4zM578 513h1v4h-1zM524 517h4v3h-4zM539 517h3v3h-3zM553 517h3v3h-3zM567 517h4v3h-4zM528 520h3v4h-3zM542 520h4v4h-4zM556 520h4v4h-4zM571 520h3v4h-3zM531 524h4v4h-4zM546 524h3v4h-3zM560 524h3v4h-3zM574 524h4v4h-4zM523 528h1v3h-1zM535 528h4v3h-4zM549 528h4v3h-4zM563 528h4v3h-4zM578 528h1v3h-1zM524 531h4v4h-4zM539 531h3v4h-3zM553 531h3v4h-3zM567 531h4v4h-4zM528 535h3v3h-3zM542 535h4v3h-4zM556 535h4v3h-4zM571 535h3v3h-3zM531 538h4v4h-4zM546 538h3v4h-3zM560 538h3v4h-3zM574 538h4v4h-4zM523 542h1v3h-1zM535 542h4v3h-4zM549 542h4v3h-4zM563 542h4v3h-4zM578 542h1v3h-1zM524 545h4v4h-4zM539 545h3v4h-3zM553 545h3v4h-3zM567 545h4v4h-4zM528 549h3v3h-3zM542 549h4v3h-4zM556 549h4v3h-4zM571 549h3v3h-3zM531 552h4v4h-4zM546 552h3v4h-3zM560 552h3v4h-3zM574 552h4v4h-4zM523 556h1v3h-1zM535 556h4v3h-4zM549 556h4v3h-4zM563 556h4v3h-4zM578 556h1v3h-1zM524 559h4v4h-4zM539 559h3v4h-3zM553 559h3v4h-3zM567 559h4v4h-4zM528 563h3v4h-3zM542 563h4v4h-4zM556 563h4v4h-4zM571 563h3v4h-3zM531 567h4v3h-4zM546 567h3v3h-3zM560 567h3v3h-3zM574 567h4v3h-4zM523 570h1v4h-1zM535 570h4v4h-4zM549 570h4v4h-4zM563 570h4v4h-4zM578 570h1v4h-1zM524 574h4v3h-4zM539 574h3v3h-3zM553 574h3v3h-3zM567 574h4v3h-4zM528 577h3v4h-3zM542 577h4v4h-4zM556 577h4v4h-4zM571 577h3v4h-3zM531 581h4v3h-4zM546 581h3v3h-3zM560 581h3v3h-3zM574 581h4v3h-4zM523 584h1v4h-1zM535 584h4v4h-4zM549 584h4v4h-4zM563 584h4v4h-4zM578 584h1v4h-1zM524 588h4v3h-4zM539 588h3v3h-3zM553 588h3v3h-3zM567 588h4v3h-4zM528 591h3v4h-3zM542 591h4v4h-4zM556 591h4v4h-4zM571 591h3v4h-3zM531 595h4v4h-4zM546 595h3v4h-3zM560 595h3v4h-3zM574 595h4v4h-4zM523 599h1v3h-1zM535 599h4v3h-4zM549 599h4v3h-4zM563 599h4v3h-4zM578 599h1v3h-1zM524 602h4v4h-4zM539 602h3v4h-3zM553 602h3v4h-3zM567 602h4v4h-4zM528 606h3v3h-3zM542 606h4v3h-4zM556 606h4v3h-4zM571 606h3v3h-3zM531 609h4v4h-4zM546 609h3v4h-3zM560 609h3v4h-3zM574 609h4v4h-4zM523 613h1v4h-1zM535 613h4v4h-4zM549 613h4v4h-4zM563 613h4v4h-4zM578 613h1v4h-1zM524 617h4v3h-4zM539 617h3v3h-3zM553 617h3v3h-3zM567 617h4v3h-4zM528 620h3v4h-3zM542 620h4v4h-4zM556 620h4v4h-4zM571 620h3v4h-3zM531 624h4v3h-4zM546 624h3v3h-3zM560 624h3v3h-3zM574 624h4v3h-4zM523 627h1v4h-1zM535 627h4v4h-4zM549 627h4v4h-4zM563 627h4v4h-4zM578 627h1v4h-1zM524 631h4v3h-4zM539 631h3v3h-3zM553 631h3v3h-3zM567 631h4v3h-4zM528 634h3v4h-3zM542 634h4v4h-4zM556 634h4v4h-4zM571 634h3v4h-3zM531 638h4v3h-4zM546 638h3v3h-3zM560 638h3v3h-3zM574 638h4v3h-4zM523 641h1v4h-1zM535 641h4v4h-4zM549 641h4v4h-4zM563 641h4v4h-4zM578 641h1v4h-1zM524 645h4v3h-4zM539 645h3v3h-3zM553 645h3v3h-3zM567 645h4v3h-4zM528 648h3v4h-3zM542 648h4v4h-4zM556 648h4v4h-4zM571 648h3v4h-3zM531 652h4v3h-4zM546 652h3v3h-3zM560 652h3v3h-3zM574 652h4v3h-4zM523 655h1v4h-1zM535 655h4v4h-4zM549 655h4v4h-4zM563 655h4v4h-4zM578 655h1v4h-1zM524 659h4v3h-4zM539 659h3v3h-3zM553 659h3v3h-3zM567 659h4v3h-4zM528 662h3v4h-3zM542 662h4v4h-4zM556 662h4v4h-4zM571 662h3v4h-3zM531 666h4v4h-4zM546 666h3v4h-3zM560 666h3v4h-3zM574 666h4v4h-4zM523 670h1v3h-1zM535 670h4v3h-4zM549 670h4v3h-4zM563 670h4v3h-4zM578 670h1v3h-1zM524 673h4v4h-4zM539 673h3v4h-3zM553 673h3v4h-3zM567 673h4v4h-4zM528 677h3v4h-3zM542 677h4v4h-4zM556 677h4v4h-4zM571 677h3v4h-3zM531 681h4v3h-4zM546 681h3v3h-3zM560 681h3v3h-3zM574 681h4v3h-4zM523 684h1v4h-1zM535 684h4v4h-4zM549 684h4v4h-4zM563 684h4v4h-4zM578 684h1v4h-1zM524 688h4v3h-4zM539 688h3v3h-3zM553 688h3v3h-3zM567 688h4v3h-4zM528 691h3v4h-3zM542 691h4v4h-4zM556 691h4v4h-4zM571 691h3v4h-3zM531 695h4v3h-4zM546 695h3v3h-3zM560 695h3v3h-3zM574 695h4v3h-4zM523 698h1v4h-1zM535 698h4v4h-4zM549 698h4v4h-4zM563 698h4v4h-4zM578 698h1v4h-1zM524 702h4v3h-4zM539 702h3v3h-3zM553 702h3v3h-3zM567 702h4v3h-4zM528 705h3v4h-3zM542 705h4v4h-4zM556 705h4v4h-4zM571 705h3v4h-3zM531 709h4v3h-4zM546 709h3v3h-3zM560 709h3v3h-3zM574 709h4v3h-4zM523 712h1v4h-1zM535 712h4v4h-4zM549 712h4v4h-4zM563 712h4v4h-4zM578 712h1v4h-1zM524 716h4v3h-4zM539 716h3v3h-3zM553 716h3v3h-3zM567 716h4v3h-4zM528 719h3v4h-3zM542 719h4v4h-4zM556 719h4v4h-4zM571 719h3v4h-3zM531 723h4v3h-4zM546 723h3v3h-3zM560 723h3v3h-3zM574 723h4v3h-4zM523 726h1v4h-1zM535 726h4v4h-4zM549 726h4v4h-4zM563 726h4v4h-4zM578 726h1v4h-1zM524 730h4v4h-4zM539 730h3v4h-3zM553 730h3v4h-3zM567 730h4v4h-4zM528 734h3v4h-3zM542 734h4v4h-4zM556 734h4v4h-4zM571 734h3v4h-3zM531 738h4v3h-4zM546 738h3v3h-3zM560 738h3v3h-3zM574 738h4v3h-4zM523 741h1v4h-1zM535 741h4v4h-4zM549 741h4v4h-4zM563 741h4v4h-4zM578 741h1v4h-1zM524 745h4v3h-4zM539 745h3v3h-3zM553 745h3v3h-3zM567 745h4v3h-4zM528 748h3v4h-3zM542 748h4v4h-4zM556 748h4v4h-4zM571 748h3v4h-3zM531 752h4v3h-4zM546 752h3v3h-3zM560 752h3v3h-3zM574 752h4v3h-4zM523 755h1v4h-1zM535 755h4v4h-4zM549 755h4v4h-4zM563 755h4v4h-4zM578 755h1v4h-1zM524 759h4v3h-4zM539 759h3v3h-3zM553 759h3v3h-3zM567 759h4v3h-4zM528 762h3v4h-3zM542 762h4v4h-4zM556 762h4v4h-4zM571 762h3v4h-3zM531 766h4v3h-4zM546 766h3v3h-3zM560 766h3v3h-3zM574 766h4v3h-4zM523 769h1v4h-1zM535 769h4v4h-4zM549 769h4v4h-4zM563 769h4v4h-4zM578 769h1v4h-1zM524 773h4v3h-4zM539 773h3v3h-3zM553 773h3v3h-3zM567 773h4v3h-4zM528 776h3v4h-3zM542 776h4v4h-4zM556 776h4v4h-4zM571 776h3v4h-3zM531 780h4v4h-4zM546 780h3v4h-3zM560 780h3v4h-3zM574 780h4v4h-4zM523 784h1v3h-1zM535 784h4v3h-4zM549 784h4v3h-4zM563 784h4v3h-4zM578 784h1v3h-1zM524 787h4v4h-4zM539 787h3v4h-3zM553 787h3v4h-3zM567 787h4v4h-4zM528 791h3v3h-3zM542 791h4v3h-4zM556 791h4v3h-4zM571 791h3v3h-3zM531 794h4v4h-4zM546 794h3v4h-3zM560 794h3v4h-3zM574 794h4v4h-4zM523 798h1v3h-1zM535 798h4v3h-4zM549 798h4v3h-4zM563 798h4v3h-4zM578 798h1v3h-1zM524 801h4v4h-4zM539 801h3v4h-3zM553 801h3v4h-3zM567 801h4v4h-4zM528 805h3v3h-3zM542 805h4v3h-4zM556 805h4v3h-4zM571 805h3v3h-3zM531 808h4v4h-4zM546 808h3v4h-3zM560 808h3v4h-3zM574 808h4v4h-4zM523 812h1v3h-1zM535 812h4v3h-4zM549 812h4v3h-4zM563 812h4v3h-4zM578 812h1v3h-1zM524 815h4v4h-4zM539 815h3v4h-3zM553 815h3v4h-3zM567 815h4v4h-4zM528 819h3v4h-3zM542 819h4v4h-4zM556 819h4v4h-4zM571 819h3v4h-3zM531 823h4v3h-4zM546 823h3v3h-3zM560 823h3v3h-3zM574 823h4v3h-4zM523 826h1v4h-1zM535 826h4v4h-4zM549 826h4v4h-4zM563 826h4v4h-4zM578 826h1v4h-1zM524 830h4v3h-4zM539 830h3v3h-3zM553 830h3v3h-3zM567 830h4v3h-4zM528 833h3v4h-3zM542 833h4v4h-4zM556 833h4v4h-4zM571 833h3v4h-3zM531 837h4v3h-4zM546 837h3v3h-3zM560 837h3v3h-3zM574 837h4v3h-4zM523 840h1v4h-1zM535 840h4v4h-4zM549 840h4v4h-4zM563 840h4v4h-4zM578 840h1v4h-1zM524 844h4v3h-4zM539 844h3v3h-3zM553 844h3v3h-3zM567 844h4v3h-4zM528 847h3v4h-3zM542 847h4v4h-4zM556 847h4v4h-4zM571 847h3v4h-3zM531 851h4v4h-4zM546 851h3v4h-3zM560 851h3v4h-3zM574 851h4v4h-4zM523 855h1v3h-1zM535 855h4v3h-4zM549 855h4v3h-4zM563 855h4v3h-4zM578 855h1v3h-1zM524 858h4v4h-4zM539 858h3v4h-3zM553 858h3v4h-3zM567 858h4v4h-4zM528 862h3v4h-3zM542 862h4v4h-4zM556 862h4v4h-4zM571 862h3v4h-3zM531 866h4v3h-4zM546 866h3v3h-3zM560 866h3v3h-3zM574 866h4v3h-4zM523 869h1v4h-1zM535 869h4v4h-4zM549 869h4v4h-4zM563 869h4v4h-4zM578 869h1v4h-1zM524 873h4v4h-4zM539 873h3v4h-3zM553 873h3v4h-3zM567 873h4v4h-4zM528 877h3v3h-3zM542 877h4v3h-4zM556 877h4v3h-4zM571 877h3v3h-3zM531 880h4v4h-4zM546 880h3v4h-3zM560 880h3v4h-3zM574 880h4v4h-4zM523 884h1v4h-1zM535 884h4v4h-4zM549 884h4v4h-4zM563 884h4v4h-4zM578 884h1v4h-1zM524 888h4v3h-4zM539 888h3v3h-3zM553 888h3v3h-3zM567 888h4v3h-4zM528 891h3v3h-3zM542 891h4v3h-4zM556 891h4v3h-4zM571 891h3v3h-3zM531 894h4v4h-4zM546 894h3v4h-3zM560 894h3v4h-3zM574 894h4v4h-4zM523 898h1v4h-1zM535 898h4v4h-4zM549 898h4v4h-4zM563 898h4v4h-4zM578 898h1v4h-1zM524 902h4v3h-4zM539 902h3v3h-3zM553 902h3v3h-3zM567 902h4v3h-4zM528 905h3v4h-3zM542 905h4v4h-4zM556 905h4v4h-4zM571 905h3v4h-3zM531 909h4v3h-4zM546 909h3v3h-3zM560 909h3v3h-3zM574 909h4v3h-4zM523 912h1v4h-1zM535 912h4v4h-4zM549 912h4v4h-4zM563 912h4v4h-4zM578 912h1v4h-1zM524 916h4v3h-4zM539 916h3v3h-3zM553 916h3v3h-3zM567 916h4v3h-4zM528 919h3v4h-3zM542 919h4v4h-4zM556 919h4v4h-4zM571 919h3v4h-3zM531 923h4v3h-4zM546 923h3v3h-3zM560 923h3v3h-3zM574 923h4v3h-4zM523 926h1v4h-1zM535 926h4v4h-4zM549 926h4v4h-4zM563 926h4v4h-4zM578 926h1v4h-1zM524 930h4v3h-4zM539 930h3v3h-3zM553 930h3v3h-3zM567 930h4v3h-4zM528 933h3v4h-3zM542 933h4v4h-4zM556 933h4v4h-4zM571 933h3v4h-3zM531 937h4v3h-4zM546 937h3v3h-3zM560 937h3v3h-3zM574 937h4v3h-4zM523 940h1v4h-1zM535 940h4v4h-4zM549 940h4v4h-4zM563 940h4v4h-4zM578 940h1v4h-1zM524 944h4v4h-4zM539 944h3v4h-3zM553 944h3v4h-3zM567 944h4v4h-4zM528 948h3v3h-3zM542 948h4v3h-4zM556 948h4v3h-4zM571 948h3v3h-3zM531 951h4v4h-4zM546 951h3v4h-3zM560 951h3v4h-3zM574 951h4v4h-4zM523 955h1v3h-1zM535 955h4v3h-4zM549 955h4v3h-4zM563 955h4v3h-4zM578 955h1v3h-1zM524 958h4v4h-4zM539 958h3v4h-3zM553 958h3v4h-3zM567 958h4v4h-4zM528 962h3v4h-3zM542 962h4v4h-4zM556 962h4v4h-4zM571 962h3v4h-3zM531 966h4v1h-4zM546 966h3v1h-3zM560 966h3v1h-3zM574 966h4v1h-4zM794 302h1v1h-1zM806 302h3v1h-3zM820 302h4v1h-4zM834 302h4v1h-4zM849 302h1v1h-1zM795 303h4v4h-4zM809 303h4v4h-4zM824 303h3v4h-3zM838 303h3v4h-3zM799 307h3v4h-3zM813 307h4v4h-4zM827 307h4v4h-4zM841 307h4v4h-4zM802 311h4v3h-4zM817 311h3v3h-3zM831 311h3v3h-3zM845 311h4v3h-4zM794 314h1v4h-1zM806 314h3v4h-3zM820 314h4v4h-4zM834 314h4v4h-4zM849 314h1v4h-1zM795 318h4v3h-4zM809 318h4v3h-4zM824 318h3v3h-3zM838 318h3v3h-3zM799 321h3v4h-3zM813 321h4v4h-4zM827 321h4v4h-4zM841 321h4v4h-4zM802 325h4v3h-4zM817 325h3v3h-3zM831 325h3v3h-3zM845 325h4v3h-4zM794 328h1v4h-1zM806 328h3v4h-3zM820 328h4v4h-4zM834 328h4v4h-4zM849 328h1v4h-1zM795 332h4v4h-4zM809 332h4v4h-4zM824 332h3v4h-3zM838 332h3v4h-3zM799 336h3v3h-3zM813 336h4v3h-4zM827 336h4v3h-4zM841 336h4v3h-4zM802 339h4v4h-4zM817 339h3v4h-3zM831 339h3v4h-3zM845 339h4v4h-4zM794 343h1v3h-1zM806 343h3v3h-3zM820 343h4v3h-4zM834 343h4v3h-4zM849 343h1v3h-1zM795 346h4v4h-4zM809 346h4v4h-4zM824 346h3v4h-3zM838 346h3v4h-3zM799 350h3v3h-3zM813 350h4v3h-4zM827 350h4v3h-4zM841 350h4v3h-4zM802 353h4v4h-4zM817 353h3v4h-3zM831 353h3v4h-3zM845 353h4v4h-4zM794 357h1v3h-1zM806 357h3v3h-3zM820 357h4v3h-4zM834 357h4v3h-4zM849 357h1v3h-1zM795 360h4v4h-4zM809 360h4v4h-4zM824 360h3v4h-3zM838 360h3v4h-3zM799 364h3v3h-3zM813 364h4v3h-4zM827 364h4v3h-4zM841 364h4v3h-4zM802 367h4v4h-4zM817 367h3v4h-3zM831 367h3v4h-3zM845 367h4v4h-4zM794 371h1v3h-1zM806 371h3v3h-3zM820 371h4v3h-4zM834 371h4v3h-4zM849 371h1v3h-1zM795 374h4v4h-4zM809 374h4v4h-4zM824 374h3v4h-3zM838 374h3v4h-3zM799 378h3v4h-3zM813 378h4v4h-4zM827 378h4v4h-4zM841 378h4v4h-4zM802 382h4v3h-4zM817 382h3v3h-3zM831 382h3v3h-3zM845 382h4v3h-4zM794 385h1v4h-1zM806 385h3v4h-3zM820 385h4v4h-4zM834 385h4v4h-4zM849 385h1v4h-1zM795 389h4v3h-4zM809 389h4v3h-4zM824 389h3v3h-3zM838 389h3v3h-3zM799 392h3v4h-3zM813 392h4v4h-4zM827 392h4v4h-4zM841 392h4v4h-4zM802 396h4v3h-4zM817 396h3v3h-3zM831 396h3v3h-3zM845 396h4v3h-4zM794 399h1v4h-1zM806 399h3v4h-3zM820 399h4v4h-4zM834 399h4v4h-4zM849 399h1v4h-1zM795 403h4v3h-4zM809 403h4v3h-4zM824 403h3v3h-3zM838 403h3v3h-3zM799 406h3v4h-3zM813 406h4v4h-4zM827 406h4v4h-4zM841 406h4v4h-4zM802 410h4v3h-4zM817 410h3v3h-3zM831 410h3v3h-3zM845 410h4v3h-4zM794 413h1v4h-1zM806 413h3v4h-3zM820 413h4v4h-4zM834 413h4v4h-4zM849 413h1v4h-1zM795 417h4v4h-4zM809 417h4v4h-4zM824 417h3v4h-3zM838 417h3v4h-3zM799 421h3v3h-3zM813 421h4v3h-4zM827 421h4v3h-4zM841 421h4v3h-4zM802 424h4v4h-4zM817 424h3v4h-3zM831 424h3v4h-3zM845 424h4v4h-4zM794 428h1v3h-1zM806 428h3v3h-3zM820 428h4v3h-4zM834 428h4v3h-4zM849 428h1v3h-1zM795 431h4v4h-4zM809 431h4v4h-4zM824 431h3v4h-3zM838 431h3v4h-3zM799 435h3v3h-3zM813 435h4v3h-4zM827 435h4v3h-4zM841 435h4v3h-4zM802 438h4v4h-4zM817 438h3v4h-3zM831 438h3v4h-3zM845 438h4v4h-4zM794 442h1v3h-1zM806 442h3v3h-3zM820 442h4v3h-4zM834 442h4v3h-4zM849 442h1v3h-1zM795 445h4v4h-4zM809 445h4v4h-4zM824 445h3v4h-3zM838 445h3v4h-3zM799 449h3v3h-3zM813 449h4v3h-4zM827 449h4v3h-4zM841 449h4v3h-4zM802 452h4v4h-4zM817 452h3v4h-3zM831 452h3v4h-3zM845 452h4v4h-4zM794 456h1v4h-1zM806 456h3v4h-3zM820 456h4v4h-4zM834 456h4v4h-4zM849 456h1v4h-1zM795 460h4v3h-4zM809 460h4v3h-4zM824 460h3v3h-3zM838 460h3v3h-3zM799 463h3v4h-3zM813 463h4v4h-4zM827 463h4v4h-4zM841 463h4v4h-4zM802 467h4v3h-4zM817 467h3v3h-3zM831 467h3v3h-3zM845 467h4v3h-4zM794 470h1v4h-1zM806 470h3v4h-3zM820 470h4v4h-4zM834 470h4v4h-4zM849 470h1v4h-1zM795 474h4v3h-4zM809 474h4v3h-4zM824 474h3v3h-3zM838 474h3v3h-3zM799 477h3v4h-3zM813 477h4v4h-4zM827 477h4v4h-4zM841 477h4v4h-4zM802 481h4v3h-4zM817 481h3v3h-3zM831 481h3v3h-3zM845 481h4v3h-4zM794 484h1v4h-1zM806 484h3v4h-3zM820 484h4v4h-4zM834 484h4v4h-4zM849 484h1v4h-1zM795 488h4v4h-4zM809 488h4v4h-4zM824 488h3v4h-3zM838 488h3v4h-3zM799 492h3v4h-3zM813 492h4v4h-4zM827 492h4v4h-4zM841 492h4v4h-4zM802 496h4v3h-4zM817 496h3v3h-3zM831 496h3v3h-3zM845 496h4v3h-4zM794 499h1v4h-1zM806 499h3v4h-3zM820 499h4v4h-4zM834 499h4v4h-4zM849 499h1v4h-1zM795 503h4v3h-4zM809 503h4v3h-4zM824 503h3v3h-3zM838 503h3v3h-3zM799 506h3v4h-3zM813 506h4v4h-4zM827 506h4v4h-4zM841 506h4v4h-4zM802 510h4v3h-4zM817 510h3v3h-3zM831 510h3v3h-3zM845 510h4v3h-4zM794 513h1v4h-1zM806 513h3v4h-3zM820 513h4v4h-4zM834 513h4v4h-4zM849 513h1v4h-1zM795 517h4v3h-4zM809 517h4v3h-4zM824 517h3v3h-3zM838 517h3v3h-3zM799 520h3v4h-3zM813 520h4v4h-4zM827 520h4v4h-4zM841 520h4v4h-4zM802 524h4v4h-4zM817 524h3v4h-3zM831 524h3v4h-3zM845 524h4v4h-4zM794 528h1v3h-1zM806 528h3v3h-3zM820 528h4v3h-4zM834 528h4v3h-4zM849 528h1v3h-1zM795 531h4v4h-4zM809 531h4v4h-4zM824 531h3v4h-3zM838 531h3v4h-3zM799 535h3v3h-3zM813 535h4v3h-4zM827 535h4v3h-4zM841 535h4v3h-4zM802 538h4v4h-4zM817 538h3v4h-3zM831 538h3v4h-3zM845 538h4v4h-4zM794 542h1v3h-1zM806 542h3v3h-3zM820 542h4v3h-4zM834 542h4v3h-4zM849 542h1v3h-1zM795 545h4v4h-4zM809 545h4v4h-4zM824 545h3v4h-3zM838 545h3v4h-3zM799 549h3v3h-3zM813 549h4v3h-4zM827 549h4v3h-4zM841 549h4v3h-4zM802 552h4v4h-4zM817 552h3v4h-3zM831 552h3v4h-3zM845 552h4v4h-4zM794 556h1v3h-1zM806 556h3v3h-3zM820 556h4v3h-4zM834 556h4v3h-4zM849 556h1v3h-1zM795 559h4v4h-4zM809 559h4v4h-4zM824 559h3v4h-3zM838 559h3v4h-3zM799 563h3v4h-3zM813 563h4v4h-4zM827 563h4v4h-4zM841 563h4v4h-4zM802 567h4v3h-4zM817 567h3v3h-3zM831 567h3v3h-3zM845 567h4v3h-4zM794 570h1v4h-1zM806 570h3v4h-3zM820 570h4v4h-4zM834 570h4v4h-4zM849 570h1v4h-1zM795 574h4v3h-4zM809 574h4v3h-4zM824 574h3v3h-3zM838 574h3v3h-3zM799 577h3v4h-3zM813 577h4v4h-4zM827 577h4v4h-4zM841 577h4v4h-4zM802 581h4v3h-4zM817 581h3v3h-3zM831 581h3v3h-3zM845 581h4v3h-4zM794 584h1v4h-1zM806 584h3v4h-3zM820 584h4v4h-4zM834 584h4v4h-4zM849 584h1v4h-1zM795 588h4v3h-4zM809 588h4v3h-4zM824 588h3v3h-3zM838 588h3v3h-3zM799 591h3v4h-3zM813 591h4v4h-4zM827 591h4v4h-4zM841 591h4v4h-4zM802 595h4v4h-4zM817 595h3v4h-3zM831 595h3v4h-3zM845 595h4v4h-4zM794 599h1v3h-1zM806 599h3v3h-3zM820 599h4v3h-4zM834 599h4v3h-4zM849 599h1v3h-1zM795 602h4v4h-4zM809 602h4v4h-4zM824 602h3v4h-3zM838 602h3v4h-3zM799 606h3v3h-3zM813 606h4v3h-4zM827 606h4v3h-4zM841 606h4v3h-4zM802 609h4v4h-4zM817 609h3v4h-3zM831 609h3v4h-3zM845 609h4v4h-4zM794 613h1v4h-1zM806 613h3v4h-3zM820 613h4v4h-4zM834 613h4v4h-4zM849 613h1v4h-1zM795 617h4v3h-4zM809 617h4v3h-4zM824 617h3v3h-3zM838 617h3v3h-3zM799 620h3v4h-3zM813 620h4v4h-4zM827 620h4v4h-4zM841 620h4v4h-4zM802 624h4v3h-4zM817 624h3v3h-3zM831 624h3v3h-3zM845 624h4v3h-4zM794 627h1v4h-1zM806 627h3v4h-3zM820 627h4v4h-4zM834 627h4v4h-4zM849 627h1v4h-1zM795 631h4v3h-4zM809 631h4v3h-4zM824 631h3v3h-3zM838 631h3v3h-3zM799 634h3v4h-3zM813 634h4v4h-4zM827 634h4v4h-4zM841 634h4v4h-4zM802 638h4v3h-4zM817 638h3v3h-3zM831 638h3v3h-3zM845 638h4v3h-4zM794 641h1v4h-1zM806 641h3v4h-3zM820 641h4v4h-4zM834 641h4v4h-4zM849 641h1v4h-1zM795 645h4v3h-4zM809 645h4v3h-4zM824 645h3v3h-3zM838 645h3v3h-3zM799 648h3v4h-3zM813 648h4v4h-4zM827 648h4v4h-4zM841 648h4v4h-4zM802 652h4v3h-4zM817 652h3v3h-3zM831 652h3v3h-3zM845 652h4v3h-4zM794 655h1v4h-1zM806 655h3v4h-3zM820 655h4v4h-4zM834 655h4v4h-4zM849 655h1v4h-1zM795 659h4v3h-4zM809 659h4v3h-4zM824 659h3v3h-3zM838 659h3v3h-3zM799 662h3v4h-3zM813 662h4v4h-4zM827 662h4v4h-4zM841 662h4v4h-4zM802 666h4v4h-4zM817 666h3v4h-3zM831 666h3v4h-3zM845 666h4v4h-4zM794 670h1v3h-1zM806 670h3v3h-3zM820 670h4v3h-4zM834 670h4v3h-4zM849 670h1v3h-1zM795 673h4v4h-4zM809 673h4v4h-4zM824 673h3v4h-3zM838 673h3v4h-3zM799 677h3v4h-3zM813 677h4v4h-4zM827 677h4v4h-4zM841 677h4v4h-4zM802 681h4v3h-4zM817 681h3v3h-3zM831 681h3v3h-3zM845 681h4v3h-4zM794 684h1v4h-1zM806 684h3v4h-3zM820 684h4v4h-4zM834 684h4v4h-4zM849 684h1v4h-1zM795 688h4v3h-4zM809 688h4v3h-4zM824 688h3v3h-3zM838 688h3v3h-3zM799 691h3v4h-3zM813 691h4v4h-4zM827 691h4v4h-4zM841 691h4v4h-4zM802 695h4v3h-4zM817 695h3v3h-3zM831 695h3v3h-3zM845 695h4v3h-4zM794 698h1v4h-1zM806 698h3v4h-3zM820 698h4v4h-4zM834 698h4v4h-4zM849 698h1v4h-1zM795 702h4v3h-4zM809 702h4v3h-4zM824 702h3v3h-3zM838 702h3v3h-3zM799 705h3v4h-3zM813 705h4v4h-4zM827 705h4v4h-4zM841 705h4v4h-4zM802 709h4v3h-4zM817 709h3v3h-3zM831 709h3v3h-3zM845 709h4v3h-4zM794 712h1v4h-1zM806 712h3v4h-3zM820 712h4v4h-4zM834 712h4v4h-4zM849 712h1v4h-1zM795 716h4v3h-4zM809 716h4v3h-4zM824 716h3v3h-3zM838 716h3v3h-3zM799 719h3v4h-3zM813 719h4v4h-4zM827 719h4v4h-4zM841 719h4v4h-4zM802 723h4v3h-4zM817 723h3v3h-3zM831 723h3v3h-3zM845 723h4v3h-4zM794 726h1v4h-1zM806 726h3v4h-3zM820 726h4v4h-4zM834 726h4v4h-4zM849 726h1v4h-1zM795 730h4v4h-4zM809 730h4v4h-4zM824 730h3v4h-3zM838 730h3v4h-3zM799 734h3v4h-3zM813 734h4v4h-4zM827 734h4v4h-4zM841 734h4v4h-4zM802 738h4v3h-4zM817 738h3v3h-3zM831 738h3v3h-3zM845 738h4v3h-4zM794 741h1v4h-1zM806 741h3v4h-3zM820 741h4v4h-4zM834 741h4v4h-4zM849 741h1v4h-1zM795 745h4v3h-4zM809 745h4v3h-4zM824 745h3v3h-3zM838 745h3v3h-3zM799 748h3v4h-3zM813 748h4v4h-4zM827 748h4v4h-4zM841 748h4v4h-4zM802 752h4v3h-4zM817 752h3v3h-3zM831 752h3v3h-3zM845 752h4v3h-4zM794 755h1v4h-1zM806 755h3v4h-3zM820 755h4v4h-4zM834 755h4v4h-4zM849 755h1v4h-1zM795 759h4v3h-4zM809 759h4v3h-4zM824 759h3v3h-3zM838 759h3v3h-3zM799 762h3v4h-3zM813 762h4v4h-4zM827 762h4v4h-4zM841 762h4v4h-4zM802 766h4v3h-4zM817 766h3v3h-3zM831 766h3v3h-3zM845 766h4v3h-4zM794 769h1v4h-1zM806 769h3v4h-3zM820 769h4v4h-4zM834 769h4v4h-4zM849 769h1v4h-1zM795 773h4v3h-4zM809 773h4v3h-4zM824 773h3v3h-3zM838 773h3v3h-3zM799 776h3v4h-3zM813 776h4v4h-4zM827 776h4v4h-4zM841 776h4v4h-4zM802 780h4v4h-4zM817 780h3v4h-3zM831 780h3v4h-3zM845 780h4v4h-4zM794 784h1v3h-1zM806 784h3v3h-3zM820 784h4v3h-4zM834 784h4v3h-4zM849 784h1v3h-1zM795 787h4v4h-4zM809 787h4v4h-4zM824 787h3v4h-3zM838 787h3v4h-3zM799 791h3v3h-3zM813 791h4v3h-4zM827 791h4v3h-4zM841 791h4v3h-4zM802 794h4v4h-4zM817 794h3v4h-3zM831 794h3v4h-3zM845 794h4v4h-4zM794 798h1v3h-1zM806 798h3v3h-3zM820 798h4v3h-4zM834 798h4v3h-4zM849 798h1v3h-1zM795 801h4v4h-4zM809 801h4v4h-4zM824 801h3v4h-3zM838 801h3v4h-3zM799 805h3v3h-3zM813 805h4v3h-4zM827 805h4v3h-4zM841 805h4v3h-4zM802 808h4v4h-4zM817 808h3v4h-3zM831 808h3v4h-3zM845 808h4v4h-4zM794 812h1v3h-1zM806 812h3v3h-3zM820 812h4v3h-4zM834 812h4v3h-4zM849 812h1v3h-1zM795 815h4v4h-4zM809 815h4v4h-4zM824 815h3v4h-3zM838 815h3v4h-3zM799 819h3v4h-3zM813 819h4v4h-4zM827 819h4v4h-4zM841 819h4v4h-4zM802 823h4v3h-4zM817 823h3v3h-3zM831 823h3v3h-3zM845 823h4v3h-4zM794 826h1v4h-1zM806 826h3v4h-3zM820 826h4v4h-4zM834 826h4v4h-4zM849 826h1v4h-1zM795 830h4v3h-4zM809 830h4v3h-4zM824 830h3v3h-3zM838 830h3v3h-3zM799 833h3v4h-3zM813 833h4v4h-4zM827 833h4v4h-4zM841 833h4v4h-4zM802 837h4v3h-4zM817 837h3v3h-3zM831 837h3v3h-3zM845 837h4v3h-4zM794 840h1v4h-1zM806 840h3v4h-3zM820 840h4v4h-4zM834 840h4v4h-4zM849 840h1v4h-1zM795 844h4v3h-4zM809 844h4v3h-4zM824 844h3v3h-3zM838 844h3v3h-3zM799 847h3v4h-3zM813 847h4v4h-4zM827 847h4v4h-4zM841 847h4v4h-4zM802 851h4v4h-4zM817 851h3v4h-3zM831 851h3v4h-3zM845 851h4v4h-4zM794 855h1v3h-1zM806 855h3v3h-3zM820 855h4v3h-4zM834 855h4v3h-4zM849 855h1v3h-1zM795 858h4v4h-4zM809 858h4v4h-4zM824 858h3v4h-3zM838 858h3v4h-3zM799 862h3v4h-3zM813 862h4v4h-4zM827 862h4v4h-4zM841 862h4v4h-4zM802 866h4v3h-4zM817 866h3v3h-3zM831 866h3v3h-3zM845 866h4v3h-4zM794 869h1v4h-1zM806 869h3v4h-3zM820 869h4v4h-4zM834 869h4v4h-4zM849 869h1v4h-1zM795 873h4v4h-4zM809 873h4v4h-4zM824 873h3v4h-3zM838 873h3v4h-3zM799 877h3v3h-3zM813 877h4v3h-4zM827 877h4v3h-4zM841 877h4v3h-4zM802 880h4v4h-4zM817 880h3v4h-3zM831 880h3v4h-3zM845 880h4v4h-4zM794 884h1v4h-1zM806 884h3v4h-3zM820 884h4v4h-4zM834 884h4v4h-4zM849 884h1v4h-1zM795 888h4v3h-4zM809 888h4v3h-4zM824 888h3v3h-3zM838 888h3v3h-3zM799 891h3v3h-3zM813 891h4v3h-4zM827 891h4v3h-4zM841 891h4v3h-4zM802 894h4v4h-4zM817 894h3v4h-3zM831 894h3v4h-3zM845 894h4v4h-4zM794 898h1v4h-1zM806 898h3v4h-3zM820 898h4v4h-4zM834 898h4v4h-4zM849 898h1v4h-1zM795 902h4v3h-4zM809 902h4v3h-4zM824 902h3v3h-3zM838 902h3v3h-3zM799 905h3v4h-3zM813 905h4v4h-4zM827 905h4v4h-4zM841 905h4v4h-4zM802 909h4v3h-4zM817 909h3v3h-3zM831 909h3v3h-3zM845 909h4v3h-4zM794 912h1v4h-1zM806 912h3v4h-3zM820 912h4v4h-4zM834 912h4v4h-4zM849 912h1v4h-1zM795 916h4v3h-4zM809 916h4v3h-4zM824 916h3v3h-3zM838 916h3v3h-3zM799 919h3v4h-3zM813 919h4v4h-4zM827 919h4v4h-4zM841 919h4v4h-4zM802 923h4v3h-4zM817 923h3v3h-3zM831 923h3v3h-3zM845 923h4v3h-4zM794 926h1v4h-1zM806 926h3v4h-3zM820 926h4v4h-4zM834 926h4v4h-4zM849 926h1v4h-1zM795 930h4v3h-4zM809 930h4v3h-4zM824 930h3v3h-3zM838 930h3v3h-3zM799 933h3v4h-3zM813 933h4v4h-4zM827 933h4v4h-4zM841 933h4v4h-4zM802 937h4v3h-4zM817 937h3v3h-3zM831 937h3v3h-3zM845 937h4v3h-4zM794 940h1v4h-1zM806 940h3v4h-3zM820 940h4v4h-4zM834 940h4v4h-4zM849 940h1v4h-1zM795 944h4v4h-4zM809 944h4v4h-4zM824 944h3v4h-3zM838 944h3v4h-3zM799 948h3v3h-3zM813 948h4v3h-4zM827 948h4v3h-4zM841 948h4v3h-4zM802 951h4v4h-4zM817 951h3v4h-3zM831 951h3v4h-3zM845 951h4v4h-4zM794 955h1v3h-1zM806 955h3v3h-3zM820 955h4v3h-4zM834 955h4v3h-4zM849 955h1v3h-1zM795 958h4v4h-4zM809 958h4v4h-4zM824 958h3v4h-3zM838 958h3v4h-3zM799 962h3v4h-3zM813 962h4v4h-4zM827 962h4v4h-4zM841 962h4v4h-4zM802 966h4v1h-4zM817 966h3v1h-3zM831 966h3v1h-3zM845 966h4v1h-4zM1069 310h3v1h-3zM1083 310h3v1h-3zM1097 310h4v1h-4zM1111 310h4v1h-4zM1072 311h4v3h-4zM1086 311h4v3h-4zM1101 311h3v3h-3zM1115 311h3v3h-3zM1076 314h3v4h-3zM1090 314h4v4h-4zM1104 314h4v4h-4zM1118 314h4v4h-4zM1065 318h4v3h-4zM1079 318h4v3h-4zM1094 318h3v3h-3zM1108 318h3v3h-3zM1069 321h3v4h-3zM1083 321h3v4h-3zM1097 321h4v4h-4zM1111 321h4v4h-4zM1072 325h4v3h-4zM1086 325h4v3h-4zM1101 325h3v3h-3zM1115 325h3v3h-3zM1076 328h3v4h-3zM1090 328h4v4h-4zM1104 328h4v4h-4zM1118 328h4v4h-4zM1065 332h4v4h-4zM1079 332h4v4h-4zM1094 332h3v4h-3zM1108 332h3v4h-3zM1069 336h3v3h-3zM1083 336h3v3h-3zM1097 336h4v3h-4zM1111 336h4v3h-4zM1072 339h4v4h-4zM1086 339h4v4h-4zM1101 339h3v4h-3zM1115 339h3v4h-3zM1076 343h3v3h-3zM1090 343h4v3h-4zM1104 343h4v3h-4zM1118 343h4v3h-4zM1065 346h4v4h-4zM1079 346h4v4h-4zM1094 346h3v4h-3zM1108 346h3v4h-3zM1069 350h3v3h-3zM1083 350h3v3h-3zM1097 350h4v3h-4zM1111 350h4v3h-4zM1072 353h4v4h-4zM1086 353h4v4h-4zM1101 353h3v4h-3zM1115 353h3v4h-3zM1076 357h3v3h-3zM1090 357h4v3h-4zM1104 357h4v3h-4zM1118 357h4v3h-4zM1065 360h4v4h-4zM1079 360h4v4h-4zM1094 360h3v4h-3zM1108 360h3v4h-3zM1069 364h3v3h-3zM1083 364h3v3h-3zM1097 364h4v3h-4zM1111 364h4v3h-4zM1072 367h4v4h-4zM1086 367h4v4h-4zM1101 367h3v4h-3zM1115 367h3v4h-3zM1076 371h3v3h-3zM1090 371h4v3h-4zM1104 371h4v3h-4zM1118 371h4v3h-4zM1065 374h4v4h-4zM1079 374h4v4h-4zM1094 374h3v4h-3zM1108 374h3v4h-3zM1069 378h3v4h-3zM1083 378h3v4h-3zM1097 378h4v4h-4zM1111 378h4v4h-4zM1072 382h4v3h-4zM1086 382h4v3h-4zM1101 382h3v3h-3zM1115 382h3v3h-3zM1076 385h3v4h-3zM1090 385h4v4h-4zM1104 385h4v4h-4zM1118 385h4v4h-4zM1065 389h4v3h-4zM1079 389h4v3h-4zM1094 389h3v3h-3zM1108 389h3v3h-3zM1069 392h3v4h-3zM1083 392h3v4h-3zM1097 392h4v4h-4zM1111 392h4v4h-4zM1072 396h4v3h-4zM1086 396h4v3h-4zM1101 396h3v3h-3zM1115 396h3v3h-3zM1076 399h3v4h-3zM1090 399h4v4h-4zM1104 399h4v4h-4zM1118 399h4v4h-4zM1065 403h4v3h-4zM1079 403h4v3h-4zM1094 403h3v3h-3zM1108 403h3v3h-3zM1069 406h3v4h-3zM1083 406h3v4h-3zM1097 406h4v4h-4zM1111 406h4v4h-4zM1072 410h4v3h-4zM1086 410h4v3h-4zM1101 410h3v3h-3zM1115 410h3v3h-3zM1076 413h3v4h-3zM1090 413h4v4h-4zM1104 413h4v4h-4zM1118 413h4v4h-4zM1065 417h4v4h-4zM1079 417h4v4h-4zM1094 417h3v4h-3zM1108 417h3v4h-3zM1069 421h3v3h-3zM1083 421h3v3h-3zM1097 421h4v3h-4zM1111 421h4v3h-4zM1072 424h4v4h-4zM1086 424h4v4h-4zM1101 424h3v4h-3zM1115 424h3v4h-3zM1076 428h3v3h-3zM1090 428h4v3h-4zM1104 428h4v3h-4zM1118 428h4v3h-4zM1065 431h4v4h-4zM1079 431h4v4h-4zM1094 431h3v4h-3zM1108 431h3v4h-3zM1069 435h3v3h-3zM1083 435h3v3h-3zM1097 435h4v3h-4zM1111 435h4v3h-4zM1072 438h4v4h-4zM1086 438h4v4h-4zM1101 438h3v4h-3zM1115 438h3v4h-3zM1076 442h3v3h-3zM1090 442h4v3h-4zM1104 442h4v3h-4zM1118 442h4v3h-4zM1065 445h4v4h-4zM1079 445h4v4h-4zM1094 445h3v4h-3zM1108 445h3v4h-3zM1069 449h3v3h-3zM1083 449h3v3h-3zM1097 449h4v3h-4zM1111 449h4v3h-4zM1072 452h4v4h-4zM1086 452h4v4h-4zM1101 452h3v4h-3zM1115 452h3v4h-3zM1076 456h3v4h-3zM1090 456h4v4h-4zM1104 456h4v4h-4zM1118 456h4v4h-4zM1065 460h4v3h-4zM1079 460h4v3h-4zM1094 460h3v3h-3zM1108 460h3v3h-3zM1069 463h3v4h-3zM1083 463h3v4h-3zM1097 463h4v4h-4zM1111 463h4v4h-4zM1072 467h4v3h-4zM1086 467h4v3h-4zM1101 467h3v3h-3zM1115 467h3v3h-3zM1076 470h3v4h-3zM1090 470h4v4h-4zM1104 470h4v4h-4zM1118 470h4v4h-4zM1065 474h4v3h-4zM1079 474h4v3h-4zM1094 474h3v3h-3zM1108 474h3v3h-3zM1069 477h3v4h-3zM1083 477h3v4h-3zM1097 477h4v4h-4zM1111 477h4v4h-4zM1072 481h4v3h-4zM1086 481h4v3h-4zM1101 481h3v3h-3zM1115 481h3v3h-3zM1076 484h3v4h-3zM1090 484h4v4h-4zM1104 484h4v4h-4zM1118 484h4v4h-4zM1065 488h4v4h-4zM1079 488h4v4h-4zM1094 488h3v4h-3zM1108 488h3v4h-3zM1069 492h3v4h-3zM1083 492h3v4h-3zM1097 492h4v4h-4zM1111 492h4v4h-4zM1072 496h4v3h-4zM1086 496h4v3h-4zM1101 496h3v3h-3zM1115 496h3v3h-3zM1076 499h3v4h-3zM1090 499h4v4h-4zM1104 499h4v4h-4zM1118 499h4v4h-4zM1065 503h4v3h-4zM1079 503h4v3h-4zM1094 503h3v3h-3zM1108 503h3v3h-3zM1069 506h3v4h-3zM1083 506h3v4h-3zM1097 506h4v4h-4zM1111 506h4v4h-4zM1072 510h4v3h-4zM1086 510h4v3h-4zM1101 510h3v3h-3zM1115 510h3v3h-3zM1076 513h3v4h-3zM1090 513h4v4h-4zM1104 513h4v4h-4zM1118 513h4v4h-4zM1065 517h4v3h-4zM1079 517h4v3h-4zM1094 517h3v3h-3zM1108 517h3v3h-3zM1069 520h3v4h-3zM1083 520h3v4h-3zM1097 520h4v4h-4zM1111 520h4v4h-4zM1072 524h4v4h-4zM1086 524h4v4h-4zM1101 524h3v4h-3zM1115 524h3v4h-3zM1076 528h3v3h-3zM1090 528h4v3h-4zM1104 528h4v3h-4zM1118 528h4v3h-4zM1065 531h4v4h-4zM1079 531h4v4h-4zM1094 531h3v4h-3zM1108 531h3v4h-3zM1069 535h3v3h-3zM1083 535h3v3h-3zM1097 535h4v3h-4zM1111 535h4v3h-4zM1072 538h4v4h-4zM1086 538h4v4h-4zM1101 538h3v4h-3zM1115 538h3v4h-3zM1076 542h3v3h-3zM1090 542h4v3h-4zM1104 542h4v3h-4zM1118 542h4v3h-4zM1065 545h4v4h-4zM1079 545h4v4h-4zM1094 545h3v4h-3zM1108 545h3v4h-3zM1069 549h3v3h-3zM1083 549h3v3h-3zM1097 549h4v3h-4zM1111 549h4v3h-4zM1072 552h4v4h-4zM1086 552h4v4h-4zM1101 552h3v4h-3zM1115 552h3v4h-3zM1076 556h3v3h-3zM1090 556h4v3h-4zM1104 556h4v3h-4zM1118 556h4v3h-4zM1065 559h4v4h-4zM1079 559h4v4h-4zM1094 559h3v4h-3zM1108 559h3v4h-3zM1069 563h3v4h-3zM1083 563h3v4h-3zM1097 563h4v4h-4zM1111 563h4v4h-4zM1072 567h4v3h-4zM1086 567h4v3h-4zM1101 567h3v3h-3zM1115 567h3v3h-3zM1076 570h3v4h-3zM1090 570h4v4h-4zM1104 570h4v4h-4zM1118 570h4v4h-4zM1065 574h4v3h-4zM1079 574h4v3h-4zM1094 574h3v3h-3zM1108 574h3v3h-3zM1069 577h3v4h-3zM1083 577h3v4h-3zM1097 577h4v4h-4zM1111 577h4v4h-4zM1072 581h4v3h-4zM1086 581h4v3h-4zM1101 581h3v3h-3zM1115 581h3v3h-3zM1076 584h3v4h-3zM1090 584h4v4h-4zM1104 584h4v4h-4zM1118 584h4v4h-4zM1065 588h4v3h-4zM1079 588h4v3h-4zM1094 588h3v3h-3zM1108 588h3v3h-3zM1069 591h3v4h-3zM1083 591h3v4h-3zM1097 591h4v4h-4zM1111 591h4v4h-4zM1072 595h4v4h-4zM1086 595h4v4h-4zM1101 595h3v4h-3zM1115 595h3v4h-3zM1076 599h3v3h-3zM1090 599h4v3h-4zM1104 599h4v3h-4zM1118 599h4v3h-4zM1065 602h4v4h-4zM1079 602h4v4h-4zM1094 602h3v4h-3zM1108 602h3v4h-3zM1069 606h3v3h-3zM1083 606h3v3h-3zM1097 606h4v3h-4zM1111 606h4v3h-4zM1072 609h4v4h-4zM1086 609h4v4h-4zM1101 609h3v4h-3zM1115 609h3v4h-3zM1076 613h3v4h-3zM1090 613h4v4h-4zM1104 613h4v4h-4zM1118 613h4v4h-4zM1065 617h4v3h-4zM1079 617h4v3h-4zM1094 617h3v3h-3zM1108 617h3v3h-3zM1069 620h3v4h-3zM1083 620h3v4h-3zM1097 620h4v4h-4zM1111 620h4v4h-4zM1072 624h4v3h-4zM1086 624h4v3h-4zM1101 624h3v3h-3zM1115 624h3v3h-3zM1076 627h3v4h-3zM1090 627h4v4h-4zM1104 627h4v4h-4zM1118 627h4v4h-4zM1065 631h4v3h-4zM1079 631h4v3h-4zM1094 631h3v3h-3zM1108 631h3v3h-3zM1069 634h3v4h-3zM1083 634h3v4h-3zM1097 634h4v4h-4zM1111 634h4v4h-4zM1072 638h4v3h-4zM1086 638h4v3h-4zM1101 638h3v3h-3zM1115 638h3v3h-3zM1076 641h3v4h-3zM1090 641h4v4h-4zM1104 641h4v4h-4zM1118 641h4v4h-4zM1065 645h4v3h-4zM1079 645h4v3h-4zM1094 645h3v3h-3zM1108 645h3v3h-3zM1069 648h3v4h-3zM1083 648h3v4h-3zM1097 648h4v4h-4zM1111 648h4v4h-4zM1072 652h4v3h-4zM1086 652h4v3h-4zM1101 652h3v3h-3zM1115 652h3v3h-3zM1076 655h3v4h-3zM1090 655h4v4h-4zM1104 655h4v4h-4zM1118 655h4v4h-4zM1065 659h4v3h-4zM1079 659h4v3h-4zM1094 659h3v3h-3zM1108 659h3v3h-3zM1069 662h3v4h-3zM1083 662h3v4h-3zM1097 662h4v4h-4zM1111 662h4v4h-4zM1072 666h4v4h-4zM1086 666h4v4h-4zM1101 666h3v4h-3zM1115 666h3v4h-3zM1076 670h3v3h-3zM1090 670h4v3h-4zM1104 670h4v3h-4zM1118 670h4v3h-4zM1065 673h4v4h-4zM1079 673h4v4h-4zM1094 673h3v4h-3zM1108 673h3v4h-3zM1069 677h3v4h-3zM1083 677h3v4h-3zM1097 677h4v4h-4zM1111 677h4v4h-4zM1072 681h4v3h-4zM1086 681h4v3h-4zM1101 681h3v3h-3zM1115 681h3v3h-3zM1076 684h3v4h-3zM1090 684h4v4h-4zM1104 684h4v4h-4zM1118 684h4v4h-4zM1065 688h4v3h-4zM1079 688h4v3h-4zM1094 688h3v3h-3zM1108 688h3v3h-3zM1069 691h3v4h-3zM1083 691h3v4h-3zM1097 691h4v4h-4zM1111 691h4v4h-4zM1072 695h4v3h-4zM1086 695h4v3h-4zM1101 695h3v3h-3zM1115 695h3v3h-3zM1076 698h3v4h-3zM1090 698h4v4h-4zM1104 698h4v4h-4zM1118 698h4v4h-4zM1065 702h4v3h-4zM1079 702h4v3h-4zM1094 702h3v3h-3zM1108 702h3v3h-3zM1069 705h3v4h-3zM1083 705h3v4h-3zM1097 705h4v4h-4zM1111 705h4v4h-4zM1072 709h4v3h-4zM1086 709h4v3h-4zM1101 709h3v3h-3zM1115 709h3v3h-3zM1076 712h3v4h-3zM1090 712h4v4h-4zM1104 712h4v4h-4zM1118 712h4v4h-4zM1065 716h4v3h-4zM1079 716h4v3h-4zM1094 716h3v3h-3zM1108 716h3v3h-3zM1069 719h3v4h-3zM1083 719h3v4h-3zM1097 719h4v4h-4zM1111 719h4v4h-4zM1072 723h4v3h-4zM1086 723h4v3h-4zM1101 723h3v3h-3zM1115 723h3v3h-3zM1076 726h3v4h-3zM1090 726h4v4h-4zM1104 726h4v4h-4zM1118 726h4v4h-4zM1065 730h4v4h-4zM1079 730h4v4h-4zM1094 730h3v4h-3zM1108 730h3v4h-3zM1069 734h3v4h-3zM1083 734h3v4h-3zM1097 734h4v4h-4zM1111 734h4v4h-4zM1072 738h4v3h-4zM1086 738h4v3h-4zM1101 738h3v3h-3zM1115 738h3v3h-3zM1076 741h3v4h-3zM1090 741h4v4h-4zM1104 741h4v4h-4zM1118 741h4v4h-4zM1065 745h4v3h-4zM1079 745h4v3h-4zM1094 745h3v3h-3zM1108 745h3v3h-3zM1069 748h3v4h-3zM1083 748h3v4h-3zM1097 748h4v4h-4zM1111 748h4v4h-4zM1072 752h4v3h-4zM1086 752h4v3h-4zM1101 752h3v3h-3zM1115 752h3v3h-3zM1076 755h3v4h-3zM1090 755h4v4h-4zM1104 755h4v4h-4zM1118 755h4v4h-4zM1065 759h4v3h-4zM1079 759h4v3h-4zM1094 759h3v3h-3zM1108 759h3v3h-3zM1069 762h3v4h-3zM1083 762h3v4h-3zM1097 762h4v4h-4zM1111 762h4v4h-4zM1072 766h4v3h-4zM1086 766h4v3h-4zM1101 766h3v3h-3zM1115 766h3v3h-3zM1076 769h3v4h-3zM1090 769h4v4h-4zM1104 769h4v4h-4zM1118 769h4v4h-4zM1065 773h4v3h-4zM1079 773h4v3h-4zM1094 773h3v3h-3zM1108 773h3v3h-3zM1069 776h3v4h-3zM1083 776h3v4h-3zM1097 776h4v4h-4zM1111 776h4v4h-4zM1072 780h4v4h-4zM1086 780h4v4h-4zM1101 780h3v4h-3zM1115 780h3v4h-3zM1076 784h3v3h-3zM1090 784h4v3h-4zM1104 784h4v3h-4zM1118 784h4v3h-4zM1065 787h4v4h-4zM1079 787h4v4h-4zM1094 787h3v4h-3zM1108 787h3v4h-3zM1069 791h3v3h-3zM1083 791h3v3h-3zM1097 791h4v3h-4zM1111 791h4v3h-4zM1072 794h4v4h-4zM1086 794h4v4h-4zM1101 794h3v4h-3zM1115 794h3v4h-3zM1076 798h3v3h-3zM1090 798h4v3h-4zM1104 798h4v3h-4zM1118 798h4v3h-4zM1065 801h4v4h-4zM1079 801h4v4h-4zM1094 801h3v4h-3zM1108 801h3v4h-3zM1069 805h3v3h-3zM1083 805h3v3h-3zM1097 805h4v3h-4zM1111 805h4v3h-4zM1072 808h4v4h-4zM1086 808h4v4h-4zM1101 808h3v4h-3zM1115 808h3v4h-3zM1076 812h3v3h-3zM1090 812h4v3h-4zM1104 812h4v3h-4zM1118 812h4v3h-4zM1065 815h4v4h-4zM1079 815h4v4h-4zM1094 815h3v4h-3zM1108 815h3v4h-3zM1069 819h3v4h-3zM1083 819h3v4h-3zM1097 819h4v4h-4zM1111 819h4v4h-4zM1072 823h4v3h-4zM1086 823h4v3h-4zM1101 823h3v3h-3zM1115 823h3v3h-3zM1076 826h3v4h-3zM1090 826h4v4h-4zM1104 826h4v4h-4zM1118 826h4v4h-4zM1065 830h4v3h-4zM1079 830h4v3h-4zM1094 830h3v3h-3zM1108 830h3v3h-3zM1069 833h3v4h-3zM1083 833h3v4h-3zM1097 833h4v4h-4zM1111 833h4v4h-4zM1072 837h4v3h-4zM1086 837h4v3h-4zM1101 837h3v3h-3zM1115 837h3v3h-3zM1076 840h3v4h-3zM1090 840h4v4h-4zM1104 840h4v4h-4zM1118 840h4v4h-4zM1065 844h4v3h-4zM1079 844h4v3h-4zM1094 844h3v3h-3zM1108 844h3v3h-3zM1069 847h3v4h-3zM1083 847h3v4h-3zM1097 847h4v4h-4zM1111 847h4v4h-4zM1072 851h4v4h-4zM1086 851h4v4h-4zM1101 851h3v4h-3zM1115 851h3v4h-3zM1076 855h3v3h-3zM1090 855h4v3h-4zM1104 855h4v3h-4zM1118 855h4v3h-4zM1065 858h4v4h-4zM1079 858h4v4h-4zM1094 858h3v4h-3zM1108 858h3v4h-3zM1069 862h3v4h-3zM1083 862h3v4h-3zM1097 862h4v4h-4zM1111 862h4v4h-4zM1072 866h4v3h-4zM1086 866h4v3h-4zM1101 866h3v3h-3zM1115 866h3v3h-3zM1076 869h3v4h-3zM1090 869h4v4h-4zM1104 869h4v4h-4zM1118 869h4v4h-4zM1065 873h4v4h-4zM1079 873h4v4h-4zM1094 873h3v4h-3zM1108 873h3v4h-3zM1069 877h3v3h-3zM1083 877h3v3h-3zM1097 877h4v3h-4zM1111 877h4v3h-4zM1072 880h4v4h-4zM1086 880h4v4h-4zM1101 880h3v4h-3zM1115 880h3v4h-3zM1076 884h3v4h-3zM1090 884h4v4h-4zM1104 884h4v4h-4zM1118 884h4v4h-4zM1065 888h4v3h-4zM1079 888h4v3h-4zM1094 888h3v3h-3zM1108 888h3v3h-3zM1069 891h3v3h-3zM1083 891h3v3h-3zM1097 891h4v3h-4zM1111 891h4v3h-4zM1072 894h4v4h-4zM1086 894h4v4h-4zM1101 894h3v4h-3zM1115 894h3v4h-3zM1076 898h3v4h-3zM1090 898h4v4h-4zM1104 898h4v4h-4zM1118 898h4v4h-4zM1065 902h4v3h-4zM1079 902h4v3h-4zM1094 902h3v3h-3zM1108 902h3v3h-3zM1069 905h3v4h-3zM1083 905h3v4h-3zM1097 905h4v4h-4zM1111 905h4v4h-4zM1072 909h4v3h-4zM1086 909h4v3h-4zM1101 909h3v3h-3zM1115 909h3v3h-3zM1076 912h3v4h-3zM1090 912h4v4h-4zM1104 912h4v4h-4zM1118 912h4v4h-4zM1065 916h4v3h-4zM1079 916h4v3h-4zM1094 916h3v3h-3zM1108 916h3v3h-3zM1069 919h3v4h-3zM1083 919h3v4h-3zM1097 919h4v4h-4zM1111 919h4v4h-4zM1072 923h4v3h-4zM1086 923h4v3h-4zM1101 923h3v3h-3zM1115 923h3v3h-3zM1076 926h3v4h-3zM1090 926h4v4h-4zM1104 926h4v4h-4zM1118 926h4v4h-4zM1065 930h4v3h-4zM1079 930h4v3h-4zM1094 930h3v3h-3zM1108 930h3v3h-3zM1069 933h3v4h-3zM1083 933h3v4h-3zM1097 933h4v4h-4zM1111 933h4v4h-4zM1072 937h4v3h-4zM1086 937h4v3h-4zM1101 937h3v3h-3zM1115 937h3v3h-3zM1076 940h3v4h-3zM1090 940h4v4h-4zM1104 940h4v4h-4zM1118 940h4v4h-4zM1065 944h4v4h-4zM1079 944h4v4h-4zM1094 944h3v4h-3zM1108 944h3v4h-3zM1069 948h3v3h-3zM1083 948h3v3h-3zM1097 948h4v3h-4zM1111 948h4v3h-4zM1072 951h4v4h-4zM1086 951h4v4h-4zM1101 951h3v4h-3zM1115 951h3v4h-3zM1076 955h3v3h-3zM1090 955h4v3h-4zM1104 955h4v3h-4zM1118 955h4v3h-4zM1065 958h4v4h-4zM1079 958h4v4h-4zM1094 958h3v4h-3zM1108 958h3v4h-3zM1069 962h3v4h-3zM1083 962h3v4h-3zM1097 962h4v4h-4zM1111 962h4v4h-4zM1072 966h4v1h-4zM1086 966h4v1h-4zM1101 966h3v1h-3zM1115 966h3v1h-3zM1340 294h3v2h-3zM1354 294h3v2h-3zM1368 294h4v2h-4zM1382 294h4v2h-4zM1343 296h4v3h-4zM1357 296h4v3h-4zM1372 296h3v3h-3zM1386 296h3v3h-3zM1347 299h3v4h-3zM1361 299h3v4h-3zM1375 299h4v4h-4zM1389 299h4v4h-4zM1337 303h3v4h-3zM1350 303h4v4h-4zM1364 303h4v4h-4zM1379 303h3v4h-3zM1340 307h3v4h-3zM1354 307h3v4h-3zM1368 307h4v4h-4zM1382 307h4v4h-4zM1343 311h4v3h-4zM1357 311h4v3h-4zM1372 311h3v3h-3zM1386 311h3v3h-3zM1347 314h3v4h-3zM1361 314h3v4h-3zM1375 314h4v4h-4zM1389 314h4v4h-4zM1337 318h3v3h-3zM1350 318h4v3h-4zM1364 318h4v3h-4zM1379 318h3v3h-3zM1340 321h3v4h-3zM1354 321h3v4h-3zM1368 321h4v4h-4zM1382 321h4v4h-4zM1343 325h4v3h-4zM1357 325h4v3h-4zM1372 325h3v3h-3zM1386 325h3v3h-3zM1347 328h3v4h-3zM1361 328h3v4h-3zM1375 328h4v4h-4zM1389 328h4v4h-4zM1337 332h3v4h-3zM1350 332h4v4h-4zM1364 332h4v4h-4zM1379 332h3v4h-3zM1340 336h3v3h-3zM1354 336h3v3h-3zM1368 336h4v3h-4zM1382 336h4v3h-4zM1343 339h4v4h-4zM1357 339h4v4h-4zM1372 339h3v4h-3zM1386 339h3v4h-3zM1347 343h3v3h-3zM1361 343h3v3h-3zM1375 343h4v3h-4zM1389 343h4v3h-4zM1337 346h3v4h-3zM1350 346h4v4h-4zM1364 346h4v4h-4zM1379 346h3v4h-3zM1340 350h3v3h-3zM1354 350h3v3h-3zM1368 350h4v3h-4zM1382 350h4v3h-4zM1343 353h4v4h-4zM1357 353h4v4h-4zM1372 353h3v4h-3zM1386 353h3v4h-3zM1347 357h3v3h-3zM1361 357h3v3h-3zM1375 357h4v3h-4zM1389 357h4v3h-4zM1337 360h3v4h-3zM1350 360h4v4h-4zM1364 360h4v4h-4zM1379 360h3v4h-3zM1340 364h3v3h-3zM1354 364h3v3h-3zM1368 364h4v3h-4zM1382 364h4v3h-4zM1343 367h4v4h-4zM1357 367h4v4h-4zM1372 367h3v4h-3zM1386 367h3v4h-3zM1347 371h3v3h-3zM1361 371h3v3h-3zM1375 371h4v3h-4zM1389 371h4v3h-4zM1337 374h3v4h-3zM1350 374h4v4h-4zM1364 374h4v4h-4zM1379 374h3v4h-3zM1340 378h3v4h-3zM1354 378h3v4h-3zM1368 378h4v4h-4zM1382 378h4v4h-4zM1343 382h4v3h-4zM1357 382h4v3h-4zM1372 382h3v3h-3zM1386 382h3v3h-3zM1347 385h3v4h-3zM1361 385h3v4h-3zM1375 385h4v4h-4zM1389 385h4v4h-4zM1337 389h3v3h-3zM1350 389h4v3h-4zM1364 389h4v3h-4zM1379 389h3v3h-3zM1340 392h3v4h-3zM1354 392h3v4h-3zM1368 392h4v4h-4zM1382 392h4v4h-4zM1343 396h4v3h-4zM1357 396h4v3h-4zM1372 396h3v3h-3zM1386 396h3v3h-3zM1347 399h3v4h-3zM1361 399h3v4h-3zM1375 399h4v4h-4zM1389 399h4v4h-4zM1337 403h3v3h-3zM1350 403h4v3h-4zM1364 403h4v3h-4zM1379 403h3v3h-3zM1340 406h3v4h-3zM1354 406h3v4h-3zM1368 406h4v4h-4zM1382 406h4v4h-4zM1343 410h4v3h-4zM1357 410h4v3h-4zM1372 410h3v3h-3zM1386 410h3v3h-3zM1347 413h3v4h-3zM1361 413h3v4h-3zM1375 413h4v4h-4zM1389 413h4v4h-4zM1337 417h3v4h-3zM1350 417h4v4h-4zM1364 417h4v4h-4zM1379 417h3v4h-3zM1340 421h3v3h-3zM1354 421h3v3h-3zM1368 421h4v3h-4zM1382 421h4v3h-4zM1343 424h4v4h-4zM1357 424h4v4h-4zM1372 424h3v4h-3zM1386 424h3v4h-3zM1347 428h3v3h-3zM1361 428h3v3h-3zM1375 428h4v3h-4zM1389 428h4v3h-4zM1337 431h3v4h-3zM1350 431h4v4h-4zM1364 431h4v4h-4zM1379 431h3v4h-3zM1340 435h3v3h-3zM1354 435h3v3h-3zM1368 435h4v3h-4zM1382 435h4v3h-4zM1343 438h4v4h-4zM1357 438h4v4h-4zM1372 438h3v4h-3zM1386 438h3v4h-3zM1347 442h3v3h-3zM1361 442h3v3h-3zM1375 442h4v3h-4zM1389 442h4v3h-4zM1337 445h3v4h-3zM1350 445h4v4h-4zM1364 445h4v4h-4zM1379 445h3v4h-3zM1340 449h3v3h-3zM1354 449h3v3h-3zM1368 449h4v3h-4zM1382 449h4v3h-4zM1343 452h4v4h-4zM1357 452h4v4h-4zM1372 452h3v4h-3zM1386 452h3v4h-3zM1347 456h3v4h-3zM1361 456h3v4h-3zM1375 456h4v4h-4zM1389 456h4v4h-4zM1337 460h3v3h-3zM1350 460h4v3h-4zM1364 460h4v3h-4zM1379 460h3v3h-3zM1340 463h3v4h-3zM1354 463h3v4h-3zM1368 463h4v4h-4zM1382 463h4v4h-4zM1343 467h4v3h-4zM1357 467h4v3h-4zM1372 467h3v3h-3zM1386 467h3v3h-3zM1347 470h3v4h-3zM1361 470h3v4h-3zM1375 470h4v4h-4zM1389 470h4v4h-4zM1337 474h3v3h-3zM1350 474h4v3h-4zM1364 474h4v3h-4zM1379 474h3v3h-3zM1340 477h3v4h-3zM1354 477h3v4h-3zM1368 477h4v4h-4zM1382 477h4v4h-4zM1343 481h4v3h-4zM1357 481h4v3h-4zM1372 481h3v3h-3zM1386 481h3v3h-3zM1347 484h3v4h-3zM1361 484h3v4h-3zM1375 484h4v4h-4zM1389 484h4v4h-4zM1337 488h3v4h-3zM1350 488h4v4h-4zM1364 488h4v4h-4zM1379 488h3v4h-3zM1340 492h3v4h-3zM1354 492h3v4h-3zM1368 492h4v4h-4zM1382 492h4v4h-4zM1343 496h4v3h-4zM1357 496h4v3h-4zM1372 496h3v3h-3zM1386 496h3v3h-3zM1347 499h3v4h-3zM1361 499h3v4h-3zM1375 499h4v4h-4zM1389 499h4v4h-4zM1337 503h3v3h-3zM1350 503h4v3h-4zM1364 503h4v3h-4zM1379 503h3v3h-3zM1340 506h3v4h-3zM1354 506h3v4h-3zM1368 506h4v4h-4zM1382 506h4v4h-4zM1343 510h4v3h-4zM1357 510h4v3h-4zM1372 510h3v3h-3zM1386 510h3v3h-3zM1347 513h3v4h-3zM1361 513h3v4h-3zM1375 513h4v4h-4zM1389 513h4v4h-4zM1337 517h3v3h-3zM1350 517h4v3h-4zM1364 517h4v3h-4zM1379 517h3v3h-3zM1340 520h3v4h-3zM1354 520h3v4h-3zM1368 520h4v4h-4zM1382 520h4v4h-4zM1343 524h4v4h-4zM1357 524h4v4h-4zM1372 524h3v4h-3zM1386 524h3v4h-3zM1347 528h3v3h-3zM1361 528h3v3h-3zM1375 528h4v3h-4zM1389 528h4v3h-4zM1337 531h3v4h-3zM1350 531h4v4h-4zM1364 531h4v4h-4zM1379 531h3v4h-3zM1340 535h3v3h-3zM1354 535h3v3h-3zM1368 535h4v3h-4zM1382 535h4v3h-4zM1343 538h4v4h-4zM1357 538h4v4h-4zM1372 538h3v4h-3zM1386 538h3v4h-3zM1347 542h3v3h-3zM1361 542h3v3h-3zM1375 542h4v3h-4zM1389 542h4v3h-4zM1337 545h3v4h-3zM1350 545h4v4h-4zM1364 545h4v4h-4zM1379 545h3v4h-3zM1340 549h3v3h-3zM1354 549h3v3h-3zM1368 549h4v3h-4zM1382 549h4v3h-4zM1343 552h4v4h-4zM1357 552h4v4h-4zM1372 552h3v4h-3zM1386 552h3v4h-3zM1347 556h3v3h-3zM1361 556h3v3h-3zM1375 556h4v3h-4zM1389 556h4v3h-4zM1337 559h3v4h-3zM1350 559h4v4h-4zM1364 559h4v4h-4zM1379 559h3v4h-3zM1340 563h3v4h-3zM1354 563h3v4h-3zM1368 563h4v4h-4zM1382 563h4v4h-4zM1343 567h4v3h-4zM1357 567h4v3h-4zM1372 567h3v3h-3zM1386 567h3v3h-3zM1347 570h3v4h-3zM1361 570h3v4h-3zM1375 570h4v4h-4zM1389 570h4v4h-4zM1337 574h3v3h-3zM1350 574h4v3h-4zM1364 574h4v3h-4zM1379 574h3v3h-3zM1340 577h3v4h-3zM1354 577h3v4h-3zM1368 577h4v4h-4zM1382 577h4v4h-4zM1343 581h4v3h-4zM1357 581h4v3h-4zM1372 581h3v3h-3zM1386 581h3v3h-3zM1347 584h3v4h-3zM1361 584h3v4h-3zM1375 584h4v4h-4zM1389 584h4v4h-4zM1337 588h3v3h-3zM1350 588h4v3h-4zM1364 588h4v3h-4zM1379 588h3v3h-3zM1340 591h3v4h-3zM1354 591h3v4h-3zM1368 591h4v4h-4zM1382 591h4v4h-4zM1343 595h4v4h-4zM1357 595h4v4h-4zM1372 595h3v4h-3zM1386 595h3v4h-3zM1347 599h3v3h-3zM1361 599h3v3h-3zM1375 599h4v3h-4zM1389 599h4v3h-4zM1337 602h3v4h-3zM1350 602h4v4h-4zM1364 602h4v4h-4zM1379 602h3v4h-3zM1340 606h3v3h-3zM1354 606h3v3h-3zM1368 606h4v3h-4zM1382 606h4v3h-4zM1343 609h4v4h-4zM1357 609h4v4h-4zM1372 609h3v4h-3zM1386 609h3v4h-3zM1347 613h3v4h-3zM1361 613h3v4h-3zM1375 613h4v4h-4zM1389 613h4v4h-4zM1337 617h3v3h-3zM1350 617h4v3h-4zM1364 617h4v3h-4zM1379 617h3v3h-3zM1340 620h3v4h-3zM1354 620h3v4h-3zM1368 620h4v4h-4zM1382 620h4v4h-4zM1343 624h4v3h-4zM1357 624h4v3h-4zM1372 624h3v3h-3zM1386 624h3v3h-3zM1347 627h3v4h-3zM1361 627h3v4h-3zM1375 627h4v4h-4zM1389 627h4v4h-4zM1337 631h3v3h-3zM1350 631h4v3h-4zM1364 631h4v3h-4zM1379 631h3v3h-3zM1340 634h3v4h-3zM1354 634h3v4h-3zM1368 634h4v4h-4zM1382 634h4v4h-4zM1343 638h4v3h-4zM1357 638h4v3h-4zM1372 638h3v3h-3zM1386 638h3v3h-3zM1347 641h3v4h-3zM1361 641h3v4h-3zM1375 641h4v4h-4zM1389 641h4v4h-4zM1337 645h3v3h-3zM1350 645h4v3h-4zM1364 645h4v3h-4zM1379 645h3v3h-3zM1340 648h3v4h-3zM1354 648h3v4h-3zM1368 648h4v4h-4zM1382 648h4v4h-4zM1343 652h4v3h-4zM1357 652h4v3h-4zM1372 652h3v3h-3zM1386 652h3v3h-3zM1347 655h3v4h-3zM1361 655h3v4h-3zM1375 655h4v4h-4zM1389 655h4v4h-4zM1337 659h3v3h-3zM1350 659h4v3h-4zM1364 659h4v3h-4zM1379 659h3v3h-3zM1340 662h3v4h-3zM1354 662h3v4h-3zM1368 662h4v4h-4zM1382 662h4v4h-4zM1343 666h4v4h-4zM1357 666h4v4h-4zM1372 666h3v4h-3zM1386 666h3v4h-3zM1347 670h3v3h-3zM1361 670h3v3h-3zM1375 670h4v3h-4zM1389 670h4v3h-4zM1337 673h3v4h-3zM1350 673h4v4h-4zM1364 673h4v4h-4zM1379 673h3v4h-3zM1340 677h3v4h-3zM1354 677h3v4h-3zM1368 677h4v4h-4zM1382 677h4v4h-4zM1343 681h4v3h-4zM1357 681h4v3h-4zM1372 681h3v3h-3zM1386 681h3v3h-3zM1347 684h3v4h-3zM1361 684h3v4h-3zM1375 684h4v4h-4zM1389 684h4v4h-4zM1337 688h3v3h-3zM1350 688h4v3h-4zM1364 688h4v3h-4zM1379 688h3v3h-3zM1340 691h3v4h-3zM1354 691h3v4h-3zM1368 691h4v4h-4zM1382 691h4v4h-4zM1343 695h4v3h-4zM1357 695h4v3h-4zM1372 695h3v3h-3zM1386 695h3v3h-3zM1347 698h3v4h-3zM1361 698h3v4h-3zM1375 698h4v4h-4zM1389 698h4v4h-4zM1337 702h3v3h-3zM1350 702h4v3h-4zM1364 702h4v3h-4zM1379 702h3v3h-3zM1340 705h3v4h-3zM1354 705h3v4h-3zM1368 705h4v4h-4zM1382 705h4v4h-4zM1343 709h4v3h-4zM1357 709h4v3h-4zM1372 709h3v3h-3zM1386 709h3v3h-3zM1347 712h3v4h-3zM1361 712h3v4h-3zM1375 712h4v4h-4zM1389 712h4v4h-4zM1337 716h3v3h-3zM1350 716h4v3h-4zM1364 716h4v3h-4zM1379 716h3v3h-3zM1340 719h3v4h-3zM1354 719h3v4h-3zM1368 719h4v4h-4zM1382 719h4v4h-4zM1343 723h4v3h-4zM1357 723h4v3h-4zM1372 723h3v3h-3zM1386 723h3v3h-3zM1347 726h3v4h-3zM1361 726h3v4h-3zM1375 726h4v4h-4zM1389 726h4v4h-4zM1337 730h3v4h-3zM1350 730h4v4h-4zM1364 730h4v4h-4zM1379 730h3v4h-3zM1340 734h3v4h-3zM1354 734h3v4h-3zM1368 734h4v4h-4zM1382 734h4v4h-4zM1343 738h4v3h-4zM1357 738h4v3h-4zM1372 738h3v3h-3zM1386 738h3v3h-3zM1347 741h3v4h-3zM1361 741h3v4h-3zM1375 741h4v4h-4zM1389 741h4v4h-4zM1337 745h3v3h-3zM1350 745h4v3h-4zM1364 745h4v3h-4zM1379 745h3v3h-3zM1340 748h3v4h-3zM1354 748h3v4h-3zM1368 748h4v4h-4zM1382 748h4v4h-4zM1343 752h4v3h-4zM1357 752h4v3h-4zM1372 752h3v3h-3zM1386 752h3v3h-3zM1347 755h3v4h-3zM1361 755h3v4h-3zM1375 755h4v4h-4zM1389 755h4v4h-4zM1337 759h3v3h-3zM1350 759h4v3h-4zM1364 759h4v3h-4zM1379 759h3v3h-3zM1340 762h3v4h-3zM1354 762h3v4h-3zM1368 762h4v4h-4zM1382 762h4v4h-4zM1343 766h4v3h-4zM1357 766h4v3h-4zM1372 766h3v3h-3zM1386 766h3v3h-3zM1347 769h3v4h-3zM1361 769h3v4h-3zM1375 769h4v4h-4zM1389 769h4v4h-4zM1337 773h3v3h-3zM1350 773h4v3h-4zM1364 773h4v3h-4zM1379 773h3v3h-3zM1340 776h3v4h-3zM1354 776h3v4h-3zM1368 776h4v4h-4zM1382 776h4v4h-4zM1343 780h4v4h-4zM1357 780h4v4h-4zM1372 780h3v4h-3zM1386 780h3v4h-3zM1347 784h3v3h-3zM1361 784h3v3h-3zM1375 784h4v3h-4zM1389 784h4v3h-4zM1337 787h3v4h-3zM1350 787h4v4h-4zM1364 787h4v4h-4zM1379 787h3v4h-3zM1340 791h3v3h-3zM1354 791h3v3h-3zM1368 791h4v3h-4zM1382 791h4v3h-4zM1343 794h4v4h-4zM1357 794h4v4h-4zM1372 794h3v4h-3zM1386 794h3v4h-3zM1347 798h3v3h-3zM1361 798h3v3h-3zM1375 798h4v3h-4zM1389 798h4v3h-4zM1337 801h3v4h-3zM1350 801h4v4h-4zM1364 801h4v4h-4zM1379 801h3v4h-3zM1340 805h3v3h-3zM1354 805h3v3h-3zM1368 805h4v3h-4zM1382 805h4v3h-4zM1343 808h4v4h-4zM1357 808h4v4h-4zM1372 808h3v4h-3zM1386 808h3v4h-3zM1347 812h3v3h-3zM1361 812h3v3h-3zM1375 812h4v3h-4zM1389 812h4v3h-4zM1337 815h3v4h-3zM1350 815h4v4h-4zM1364 815h4v4h-4zM1379 815h3v4h-3zM1340 819h3v4h-3zM1354 819h3v4h-3zM1368 819h4v4h-4zM1382 819h4v4h-4zM1343 823h4v3h-4zM1357 823h4v3h-4zM1372 823h3v3h-3zM1386 823h3v3h-3zM1347 826h3v4h-3zM1361 826h3v4h-3zM1375 826h4v4h-4zM1389 826h4v4h-4zM1337 830h3v3h-3zM1350 830h4v3h-4zM1364 830h4v3h-4zM1379 830h3v3h-3zM1340 833h3v4h-3zM1354 833h3v4h-3zM1368 833h4v4h-4zM1382 833h4v4h-4zM1343 837h4v3h-4zM1357 837h4v3h-4zM1372 837h3v3h-3zM1386 837h3v3h-3zM1347 840h3v4h-3zM1361 840h3v4h-3zM1375 840h4v4h-4zM1389 840h4v4h-4zM1337 844h3v3h-3zM1350 844h4v3h-4zM1364 844h4v3h-4zM1379 844h3v3h-3zM1340 847h3v4h-3zM1354 847h3v4h-3zM1368 847h4v4h-4zM1382 847h4v4h-4zM1343 851h4v4h-4zM1357 851h4v4h-4zM1372 851h3v4h-3zM1386 851h3v4h-3zM1347 855h3v3h-3zM1361 855h3v3h-3zM1375 855h4v3h-4zM1389 855h4v3h-4zM1337 858h3v4h-3zM1350 858h4v4h-4zM1364 858h4v4h-4zM1379 858h3v4h-3zM1340 862h3v4h-3zM1354 862h3v4h-3zM1368 862h4v4h-4zM1382 862h4v4h-4zM1343 866h4v3h-4zM1357 866h4v3h-4zM1372 866h3v3h-3zM1386 866h3v3h-3zM1347 869h3v4h-3zM1361 869h3v4h-3zM1375 869h4v4h-4zM1389 869h4v4h-4zM1337 873h3v4h-3zM1350 873h4v4h-4zM1364 873h4v4h-4zM1379 873h3v4h-3zM1340 877h3v3h-3zM1354 877h3v3h-3zM1368 877h4v3h-4zM1382 877h4v3h-4zM1343 880h4v4h-4zM1357 880h4v4h-4zM1372 880h3v4h-3zM1386 880h3v4h-3zM1347 884h3v4h-3zM1361 884h3v4h-3zM1375 884h4v4h-4zM1389 884h4v4h-4zM1337 888h3v3h-3zM1350 888h4v3h-4zM1364 888h4v3h-4zM1379 888h3v3h-3zM1340 891h3v3h-3zM1354 891h3v3h-3zM1368 891h4v3h-4zM1382 891h4v3h-4zM1343 894h4v4h-4zM1357 894h4v4h-4zM1372 894h3v4h-3zM1386 894h3v4h-3zM1347 898h3v4h-3zM1361 898h3v4h-3zM1375 898h4v4h-4zM1389 898h4v4h-4zM1337 902h3v3h-3zM1350 902h4v3h-4zM1364 902h4v3h-4zM1379 902h3v3h-3zM1340 905h3v4h-3zM1354 905h3v4h-3zM1368 905h4v4h-4zM1382 905h4v4h-4zM1343 909h4v3h-4zM1357 909h4v3h-4zM1372 909h3v3h-3zM1386 909h3v3h-3zM1347 912h3v4h-3zM1361 912h3v4h-3zM1375 912h4v4h-4zM1389 912h4v4h-4zM1337 916h3v3h-3zM1350 916h4v3h-4zM1364 916h4v3h-4zM1379 916h3v3h-3zM1340 919h3v4h-3zM1354 919h3v4h-3zM1368 919h4v4h-4zM1382 919h4v4h-4zM1343 923h4v3h-4zM1357 923h4v3h-4zM1372 923h3v3h-3zM1386 923h3v3h-3zM1347 926h3v4h-3zM1361 926h3v4h-3zM1375 926h4v4h-4zM1389 926h4v4h-4zM1337 930h3v3h-3zM1350 930h4v3h-4zM1364 930h4v3h-4zM1379 930h3v3h-3zM1340 933h3v4h-3zM1354 933h3v4h-3zM1368 933h4v4h-4zM1382 933h4v4h-4zM1343 937h4v3h-4zM1357 937h4v3h-4zM1372 937h3v3h-3zM1386 937h3v3h-3zM1347 940h3v4h-3zM1361 940h3v4h-3zM1375 940h4v4h-4zM1389 940h4v4h-4zM1337 944h3v4h-3zM1350 944h4v4h-4zM1364 944h4v4h-4zM1379 944h3v4h-3zM1340 948h3v3h-3zM1354 948h3v3h-3zM1368 948h4v3h-4zM1382 948h4v3h-4zM1343 951h4v4h-4zM1357 951h4v4h-4zM1372 951h3v4h-3zM1386 951h3v4h-3zM1347 955h3v3h-3zM1361 955h3v3h-3zM1375 955h4v3h-4zM1389 955h4v3h-4zM1337 958h3v4h-3zM1350 958h4v4h-4zM1364 958h4v4h-4zM1379 958h3v4h-3zM1340 962h3v4h-3zM1354 962h3v4h-3zM1368 962h4v4h-4zM1382 962h4v4h-4zM1343 966h4v1h-4zM1357 966h4v1h-4zM1372 966h3v1h-3zM1386 966h3v1h-3zM1610 278h4v4h-4zM1625 278h3v4h-3zM1639 278h3v4h-3zM1653 278h3v4h-3zM1614 282h3v3h-3zM1628 282h4v3h-4zM1642 282h4v3h-4zM1656 282h4v3h-4zM1617 285h4v4h-4zM1632 285h3v4h-3zM1646 285h3v4h-3zM1660 285h3v4h-3zM1608 289h2v3h-2zM1621 289h4v3h-4zM1635 289h4v3h-4zM1649 289h4v3h-4zM1663 289h2v3h-2zM1610 292h4v4h-4zM1625 292h3v4h-3zM1639 292h3v4h-3zM1653 292h3v4h-3zM1614 296h3v3h-3zM1628 296h4v3h-4zM1642 296h4v3h-4zM1656 296h4v3h-4zM1617 299h4v4h-4zM1632 299h3v4h-3zM1646 299h3v4h-3zM1660 299h3v4h-3zM1608 303h2v4h-2zM1621 303h4v4h-4zM1635 303h4v4h-4zM1649 303h4v4h-4zM1663 303h2v4h-2zM1610 307h4v4h-4zM1625 307h3v4h-3zM1639 307h3v4h-3zM1653 307h3v4h-3zM1614 311h3v3h-3zM1628 311h4v3h-4zM1642 311h4v3h-4zM1656 311h4v3h-4zM1617 314h4v4h-4zM1632 314h3v4h-3zM1646 314h3v4h-3zM1660 314h3v4h-3zM1608 318h2v3h-2zM1621 318h4v3h-4zM1635 318h4v3h-4zM1649 318h4v3h-4zM1663 318h2v3h-2zM1610 321h4v4h-4zM1625 321h3v4h-3zM1639 321h3v4h-3zM1653 321h3v4h-3zM1614 325h3v3h-3zM1628 325h4v3h-4zM1642 325h4v3h-4zM1656 325h4v3h-4zM1617 328h4v4h-4zM1632 328h3v4h-3zM1646 328h3v4h-3zM1660 328h3v4h-3zM1608 332h2v4h-2zM1621 332h4v4h-4zM1635 332h4v4h-4zM1649 332h4v4h-4zM1663 332h2v4h-2zM1610 336h4v3h-4zM1625 336h3v3h-3zM1639 336h3v3h-3zM1653 336h3v3h-3zM1614 339h3v4h-3zM1628 339h4v4h-4zM1642 339h4v4h-4zM1656 339h4v4h-4zM1617 343h4v3h-4zM1632 343h3v3h-3zM1646 343h3v3h-3zM1660 343h3v3h-3zM1608 346h2v4h-2zM1621 346h4v4h-4zM1635 346h4v4h-4zM1649 346h4v4h-4zM1663 346h2v4h-2zM1610 350h4v3h-4zM1625 350h3v3h-3zM1639 350h3v3h-3zM1653 350h3v3h-3zM1614 353h3v4h-3zM1628 353h4v4h-4zM1642 353h4v4h-4zM1656 353h4v4h-4zM1617 357h4v3h-4zM1632 357h3v3h-3zM1646 357h3v3h-3zM1660 357h3v3h-3zM1608 360h2v4h-2zM1621 360h4v4h-4zM1635 360h4v4h-4zM1649 360h4v4h-4zM1663 360h2v4h-2zM1610 364h4v3h-4zM1625 364h3v3h-3zM1639 364h3v3h-3zM1653 364h3v3h-3zM1614 367h3v4h-3zM1628 367h4v4h-4zM1642 367h4v4h-4zM1656 367h4v4h-4zM1617 371h4v3h-4zM1632 371h3v3h-3zM1646 371h3v3h-3zM1660 371h3v3h-3zM1608 374h2v4h-2zM1621 374h4v4h-4zM1635 374h4v4h-4zM1649 374h4v4h-4zM1663 374h2v4h-2zM1610 378h4v4h-4zM1625 378h3v4h-3zM1639 378h3v4h-3zM1653 378h3v4h-3zM1614 382h3v3h-3zM1628 382h4v3h-4zM1642 382h4v3h-4zM1656 382h4v3h-4zM1617 385h4v4h-4zM1632 385h3v4h-3zM1646 385h3v4h-3zM1660 385h3v4h-3zM1608 389h2v3h-2zM1621 389h4v3h-4zM1635 389h4v3h-4zM1649 389h4v3h-4zM1663 389h2v3h-2zM1610 392h4v4h-4zM1625 392h3v4h-3zM1639 392h3v4h-3zM1653 392h3v4h-3zM1614 396h3v3h-3zM1628 396h4v3h-4zM1642 396h4v3h-4zM1656 396h4v3h-4zM1617 399h4v4h-4zM1632 399h3v4h-3zM1646 399h3v4h-3zM1660 399h3v4h-3zM1608 403h2v3h-2zM1621 403h4v3h-4zM1635 403h4v3h-4zM1649 403h4v3h-4zM1663 403h2v3h-2zM1610 406h4v4h-4zM1625 406h3v4h-3zM1639 406h3v4h-3zM1653 406h3v4h-3zM1614 410h3v3h-3zM1628 410h4v3h-4zM1642 410h4v3h-4zM1656 410h4v3h-4zM1617 413h4v4h-4zM1632 413h3v4h-3zM1646 413h3v4h-3zM1660 413h3v4h-3zM1608 417h2v4h-2zM1621 417h4v4h-4zM1635 417h4v4h-4zM1649 417h4v4h-4zM1663 417h2v4h-2zM1610 421h4v3h-4zM1625 421h3v3h-3zM1639 421h3v3h-3zM1653 421h3v3h-3zM1614 424h3v4h-3zM1628 424h4v4h-4zM1642 424h4v4h-4zM1656 424h4v4h-4zM1617 428h4v3h-4zM1632 428h3v3h-3zM1646 428h3v3h-3zM1660 428h3v3h-3zM1608 431h2v4h-2zM1621 431h4v4h-4zM1635 431h4v4h-4zM1649 431h4v4h-4zM1663 431h2v4h-2zM1610 435h4v3h-4zM1625 435h3v3h-3zM1639 435h3v3h-3zM1653 435h3v3h-3zM1614 438h3v4h-3zM1628 438h4v4h-4zM1642 438h4v4h-4zM1656 438h4v4h-4zM1617 442h4v3h-4zM1632 442h3v3h-3zM1646 442h3v3h-3zM1660 442h3v3h-3zM1608 445h2v4h-2zM1621 445h4v4h-4zM1635 445h4v4h-4zM1649 445h4v4h-4zM1663 445h2v4h-2zM1610 449h4v3h-4zM1625 449h3v3h-3zM1639 449h3v3h-3zM1653 449h3v3h-3zM1614 452h3v4h-3zM1628 452h4v4h-4zM1642 452h4v4h-4zM1656 452h4v4h-4zM1617 456h4v4h-4zM1632 456h3v4h-3zM1646 456h3v4h-3zM1660 456h3v4h-3zM1608 460h2v3h-2zM1621 460h4v3h-4zM1635 460h4v3h-4zM1649 460h4v3h-4zM1663 460h2v3h-2zM1610 463h4v4h-4zM1625 463h3v4h-3zM1639 463h3v4h-3zM1653 463h3v4h-3zM1614 467h3v3h-3zM1628 467h4v3h-4zM1642 467h4v3h-4zM1656 467h4v3h-4zM1617 470h4v4h-4zM1632 470h3v4h-3zM1646 470h3v4h-3zM1660 470h3v4h-3zM1608 474h2v3h-2zM1621 474h4v3h-4zM1635 474h4v3h-4zM1649 474h4v3h-4zM1663 474h2v3h-2zM1610 477h4v4h-4zM1625 477h3v4h-3zM1639 477h3v4h-3zM1653 477h3v4h-3zM1614 481h3v3h-3zM1628 481h4v3h-4zM1642 481h4v3h-4zM1656 481h4v3h-4zM1617 484h4v4h-4zM1632 484h3v4h-3zM1646 484h3v4h-3zM1660 484h3v4h-3zM1608 488h2v4h-2zM1621 488h4v4h-4zM1635 488h4v4h-4zM1649 488h4v4h-4zM1663 488h2v4h-2zM1610 492h4v4h-4zM1625 492h3v4h-3zM1639 492h3v4h-3zM1653 492h3v4h-3zM1614 496h3v3h-3zM1628 496h4v3h-4zM1642 496h4v3h-4zM1656 496h4v3h-4zM1617 499h4v4h-4zM1632 499h3v4h-3zM1646 499h3v4h-3zM1660 499h3v4h-3zM1608 503h2v3h-2zM1621 503h4v3h-4zM1635 503h4v3h-4zM1649 503h4v3h-4zM1663 503h2v3h-2zM1610 506h4v4h-4zM1625 506h3v4h-3zM1639 506h3v4h-3zM1653 506h3v4h-3zM1614 510h3v3h-3zM1628 510h4v3h-4zM1642 510h4v3h-4zM1656 510h4v3h-4zM1617 513h4v4h-4zM1632 513h3v4h-3zM1646 513h3v4h-3zM1660 513h3v4h-3zM1608 517h2v3h-2zM1621 517h4v3h-4zM1635 517h4v3h-4zM1649 517h4v3h-4zM1663 517h2v3h-2zM1610 520h4v4h-4zM1625 520h3v4h-3zM1639 520h3v4h-3zM1653 520h3v4h-3zM1614 524h3v4h-3zM1628 524h4v4h-4zM1642 524h4v4h-4zM1656 524h4v4h-4zM1617 528h4v3h-4zM1632 528h3v3h-3zM1646 528h3v3h-3zM1660 528h3v3h-3zM1608 531h2v4h-2zM1621 531h4v4h-4zM1635 531h4v4h-4zM1649 531h4v4h-4zM1663 531h2v4h-2zM1610 535h4v3h-4zM1625 535h3v3h-3zM1639 535h3v3h-3zM1653 535h3v3h-3zM1614 538h3v4h-3zM1628 538h4v4h-4zM1642 538h4v4h-4zM1656 538h4v4h-4zM1617 542h4v3h-4zM1632 542h3v3h-3zM1646 542h3v3h-3zM1660 542h3v3h-3zM1608 545h2v4h-2zM1621 545h4v4h-4zM1635 545h4v4h-4zM1649 545h4v4h-4zM1663 545h2v4h-2zM1610 549h4v3h-4zM1625 549h3v3h-3zM1639 549h3v3h-3zM1653 549h3v3h-3zM1614 552h3v4h-3zM1628 552h4v4h-4zM1642 552h4v4h-4zM1656 552h4v4h-4zM1617 556h4v3h-4zM1632 556h3v3h-3zM1646 556h3v3h-3zM1660 556h3v3h-3zM1608 559h2v4h-2zM1621 559h4v4h-4zM1635 559h4v4h-4zM1649 559h4v4h-4zM1663 559h2v4h-2zM1610 563h4v4h-4zM1625 563h3v4h-3zM1639 563h3v4h-3zM1653 563h3v4h-3zM1614 567h3v3h-3zM1628 567h4v3h-4zM1642 567h4v3h-4zM1656 567h4v3h-4zM1617 570h4v4h-4zM1632 570h3v4h-3zM1646 570h3v4h-3zM1660 570h3v4h-3zM1608 574h2v3h-2zM1621 574h4v3h-4zM1635 574h4v3h-4zM1649 574h4v3h-4zM1663 574h2v3h-2zM1610 577h4v4h-4zM1625 577h3v4h-3zM1639 577h3v4h-3zM1653 577h3v4h-3zM1614 581h3v3h-3zM1628 581h4v3h-4zM1642 581h4v3h-4zM1656 581h4v3h-4zM1617 584h4v4h-4zM1632 584h3v4h-3zM1646 584h3v4h-3zM1660 584h3v4h-3zM1608 588h2v3h-2zM1621 588h4v3h-4zM1635 588h4v3h-4zM1649 588h4v3h-4zM1663 588h2v3h-2zM1610 591h4v4h-4zM1625 591h3v4h-3zM1639 591h3v4h-3zM1653 591h3v4h-3zM1614 595h3v4h-3zM1628 595h4v4h-4zM1642 595h4v4h-4zM1656 595h4v4h-4zM1617 599h4v3h-4zM1632 599h3v3h-3zM1646 599h3v3h-3zM1660 599h3v3h-3zM1608 602h2v4h-2zM1621 602h4v4h-4zM1635 602h4v4h-4zM1649 602h4v4h-4zM1663 602h2v4h-2zM1610 606h4v3h-4zM1625 606h3v3h-3zM1639 606h3v3h-3zM1653 606h3v3h-3zM1614 609h3v4h-3zM1628 609h4v4h-4zM1642 609h4v4h-4zM1656 609h4v4h-4zM1617 613h4v4h-4zM1632 613h3v4h-3zM1646 613h3v4h-3zM1660 613h3v4h-3zM1608 617h2v3h-2zM1621 617h4v3h-4zM1635 617h4v3h-4zM1649 617h4v3h-4zM1663 617h2v3h-2zM1610 620h4v4h-4zM1625 620h3v4h-3zM1639 620h3v4h-3zM1653 620h3v4h-3zM1614 624h3v3h-3zM1628 624h4v3h-4zM1642 624h4v3h-4zM1656 624h4v3h-4zM1617 627h4v4h-4zM1632 627h3v4h-3zM1646 627h3v4h-3zM1660 627h3v4h-3zM1608 631h2v3h-2zM1621 631h4v3h-4zM1635 631h4v3h-4zM1649 631h4v3h-4zM1663 631h2v3h-2zM1610 634h4v4h-4zM1625 634h3v4h-3zM1639 634h3v4h-3zM1653 634h3v4h-3zM1614 638h3v3h-3zM1628 638h4v3h-4zM1642 638h4v3h-4zM1656 638h4v3h-4zM1617 641h4v4h-4zM1632 641h3v4h-3zM1646 641h3v4h-3zM1660 641h3v4h-3zM1608 645h2v3h-2zM1621 645h4v3h-4zM1635 645h4v3h-4zM1649 645h4v3h-4zM1663 645h2v3h-2zM1610 648h4v4h-4zM1625 648h3v4h-3zM1639 648h3v4h-3zM1653 648h3v4h-3zM1614 652h3v3h-3zM1628 652h4v3h-4zM1642 652h4v3h-4zM1656 652h4v3h-4zM1617 655h4v4h-4zM1632 655h3v4h-3zM1646 655h3v4h-3zM1660 655h3v4h-3zM1608 659h2v3h-2zM1621 659h4v3h-4zM1635 659h4v3h-4zM1649 659h4v3h-4zM1663 659h2v3h-2zM1610 662h4v4h-4zM1625 662h3v4h-3zM1639 662h3v4h-3zM1653 662h3v4h-3zM1614 666h3v4h-3zM1628 666h4v4h-4zM1642 666h4v4h-4zM1656 666h4v4h-4zM1617 670h4v3h-4zM1632 670h3v3h-3zM1646 670h3v3h-3zM1660 670h3v3h-3zM1608 673h2v4h-2zM1621 673h4v4h-4zM1635 673h4v4h-4zM1649 673h4v4h-4zM1663 673h2v4h-2zM1610 677h4v4h-4zM1625 677h3v4h-3zM1639 677h3v4h-3zM1653 677h3v4h-3zM1614 681h3v3h-3zM1628 681h4v3h-4zM1642 681h4v3h-4zM1656 681h4v3h-4zM1617 684h4v4h-4zM1632 684h3v4h-3zM1646 684h3v4h-3zM1660 684h3v4h-3zM1608 688h2v3h-2zM1621 688h4v3h-4zM1635 688h4v3h-4zM1649 688h4v3h-4zM1663 688h2v3h-2zM1610 691h4v4h-4zM1625 691h3v4h-3zM1639 691h3v4h-3zM1653 691h3v4h-3zM1614 695h3v3h-3zM1628 695h4v3h-4zM1642 695h4v3h-4zM1656 695h4v3h-4zM1617 698h4v4h-4zM1632 698h3v4h-3zM1646 698h3v4h-3zM1660 698h3v4h-3zM1608 702h2v3h-2zM1621 702h4v3h-4zM1635 702h4v3h-4zM1649 702h4v3h-4zM1663 702h2v3h-2zM1610 705h4v4h-4zM1625 705h3v4h-3zM1639 705h3v4h-3zM1653 705h3v4h-3zM1614 709h3v3h-3zM1628 709h4v3h-4zM1642 709h4v3h-4zM1656 709h4v3h-4zM1617 712h4v4h-4zM1632 712h3v4h-3zM1646 712h3v4h-3zM1660 712h3v4h-3zM1608 716h2v3h-2zM1621 716h4v3h-4zM1635 716h4v3h-4zM1649 716h4v3h-4zM1663 716h2v3h-2zM1610 719h4v4h-4zM1625 719h3v4h-3zM1639 719h3v4h-3zM1653 719h3v4h-3zM1614 723h3v3h-3zM1628 723h4v3h-4zM1642 723h4v3h-4zM1656 723h4v3h-4zM1617 726h4v4h-4zM1632 726h3v4h-3zM1646 726h3v4h-3zM1660 726h3v4h-3zM1608 730h2v4h-2zM1621 730h4v4h-4zM1635 730h4v4h-4zM1649 730h4v4h-4zM1663 730h2v4h-2zM1610 734h4v4h-4zM1625 734h3v4h-3zM1639 734h3v4h-3zM1653 734h3v4h-3zM1614 738h3v3h-3zM1628 738h4v3h-4zM1642 738h4v3h-4zM1656 738h4v3h-4zM1617 741h4v4h-4zM1632 741h3v4h-3zM1646 741h3v4h-3zM1660 741h3v4h-3zM1608 745h2v3h-2zM1621 745h4v3h-4zM1635 745h4v3h-4zM1649 745h4v3h-4zM1663 745h2v3h-2zM1610 748h4v4h-4zM1625 748h3v4h-3zM1639 748h3v4h-3zM1653 748h3v4h-3zM1614 752h3v3h-3zM1628 752h4v3h-4zM1642 752h4v3h-4zM1656 752h4v3h-4zM1617 755h4v4h-4zM1632 755h3v4h-3zM1646 755h3v4h-3zM1660 755h3v4h-3zM1608 759h2v3h-2zM1621 759h4v3h-4zM1635 759h4v3h-4zM1649 759h4v3h-4zM1663 759h2v3h-2zM1610 762h4v4h-4zM1625 762h3v4h-3zM1639 762h3v4h-3zM1653 762h3v4h-3zM1614 766h3v3h-3zM1628 766h4v3h-4zM1642 766h4v3h-4zM1656 766h4v3h-4zM1617 769h4v4h-4zM1632 769h3v4h-3zM1646 769h3v4h-3zM1660 769h3v4h-3zM1608 773h2v3h-2zM1621 773h4v3h-4zM1635 773h4v3h-4zM1649 773h4v3h-4zM1663 773h2v3h-2zM1610 776h4v4h-4zM1625 776h3v4h-3zM1639 776h3v4h-3zM1653 776h3v4h-3zM1614 780h3v4h-3zM1628 780h4v4h-4zM1642 780h4v4h-4zM1656 780h4v4h-4zM1617 784h4v3h-4zM1632 784h3v3h-3zM1646 784h3v3h-3zM1660 784h3v3h-3zM1608 787h2v4h-2zM1621 787h4v4h-4zM1635 787h4v4h-4zM1649 787h4v4h-4zM1663 787h2v4h-2zM1610 791h4v3h-4zM1625 791h3v3h-3zM1639 791h3v3h-3zM1653 791h3v3h-3zM1614 794h3v4h-3zM1628 794h4v4h-4zM1642 794h4v4h-4zM1656 794h4v4h-4zM1617 798h4v3h-4zM1632 798h3v3h-3zM1646 798h3v3h-3zM1660 798h3v3h-3zM1608 801h2v4h-2zM1621 801h4v4h-4zM1635 801h4v4h-4zM1649 801h4v4h-4zM1663 801h2v4h-2zM1610 805h4v3h-4zM1625 805h3v3h-3zM1639 805h3v3h-3zM1653 805h3v3h-3zM1614 808h3v4h-3zM1628 808h4v4h-4zM1642 808h4v4h-4zM1656 808h4v4h-4zM1617 812h4v3h-4zM1632 812h3v3h-3zM1646 812h3v3h-3zM1660 812h3v3h-3zM1608 815h2v4h-2zM1621 815h4v4h-4zM1635 815h4v4h-4zM1649 815h4v4h-4zM1663 815h2v4h-2zM1610 819h4v4h-4zM1625 819h3v4h-3zM1639 819h3v4h-3zM1653 819h3v4h-3zM1614 823h3v3h-3zM1628 823h4v3h-4zM1642 823h4v3h-4zM1656 823h4v3h-4zM1617 826h4v4h-4zM1632 826h3v4h-3zM1646 826h3v4h-3zM1660 826h3v4h-3zM1608 830h2v3h-2zM1621 830h4v3h-4zM1635 830h4v3h-4zM1649 830h4v3h-4zM1663 830h2v3h-2zM1610 833h4v4h-4zM1625 833h3v4h-3zM1639 833h3v4h-3zM1653 833h3v4h-3zM1614 837h3v3h-3zM1628 837h4v3h-4zM1642 837h4v3h-4zM1656 837h4v3h-4zM1617 840h4v4h-4zM1632 840h3v4h-3zM1646 840h3v4h-3zM1660 840h3v4h-3zM1608 844h2v3h-2zM1621 844h4v3h-4zM1635 844h4v3h-4zM1649 844h4v3h-4zM1663 844h2v3h-2zM1610 847h4v4h-4zM1625 847h3v4h-3zM1639 847h3v4h-3zM1653 847h3v4h-3zM1614 851h3v4h-3zM1628 851h4v4h-4zM1642 851h4v4h-4zM1656 851h4v4h-4zM1617 855h4v3h-4zM1632 855h3v3h-3zM1646 855h3v3h-3zM1660 855h3v3h-3zM1608 858h2v4h-2zM1621 858h4v4h-4zM1635 858h4v4h-4zM1649 858h4v4h-4zM1663 858h2v4h-2zM1610 862h4v4h-4zM1625 862h3v4h-3zM1639 862h3v4h-3zM1653 862h3v4h-3zM1614 866h3v3h-3zM1628 866h4v3h-4zM1642 866h4v3h-4zM1656 866h4v3h-4zM1617 869h4v4h-4zM1632 869h3v4h-3zM1646 869h3v4h-3zM1660 869h3v4h-3zM1608 873h2v4h-2zM1621 873h4v4h-4zM1635 873h4v4h-4zM1649 873h4v4h-4zM1663 873h2v4h-2zM1610 877h4v3h-4zM1625 877h3v3h-3zM1639 877h3v3h-3zM1653 877h3v3h-3zM1614 880h3v4h-3zM1628 880h4v4h-4zM1642 880h4v4h-4zM1656 880h4v4h-4zM1617 884h4v4h-4zM1632 884h3v4h-3zM1646 884h3v4h-3zM1660 884h3v4h-3zM1608 888h2v3h-2zM1621 888h4v3h-4zM1635 888h4v3h-4zM1649 888h4v3h-4zM1663 888h2v3h-2zM1610 891h4v3h-4zM1625 891h3v3h-3zM1639 891h3v3h-3zM1653 891h3v3h-3zM1614 894h3v4h-3zM1628 894h4v4h-4zM1642 894h4v4h-4zM1656 894h4v4h-4zM1617 898h4v4h-4zM1632 898h3v4h-3zM1646 898h3v4h-3zM1660 898h3v4h-3zM1608 902h2v3h-2zM1621 902h4v3h-4zM1635 902h4v3h-4zM1649 902h4v3h-4zM1663 902h2v3h-2zM1610 905h4v4h-4zM1625 905h3v4h-3zM1639 905h3v4h-3zM1653 905h3v4h-3zM1614 909h3v3h-3zM1628 909h4v3h-4zM1642 909h4v3h-4zM1656 909h4v3h-4zM1617 912h4v4h-4zM1632 912h3v4h-3zM1646 912h3v4h-3zM1660 912h3v4h-3zM1608 916h2v3h-2zM1621 916h4v3h-4zM1635 916h4v3h-4zM1649 916h4v3h-4zM1663 916h2v3h-2zM1610 919h4v4h-4zM1625 919h3v4h-3zM1639 919h3v4h-3zM1653 919h3v4h-3zM1614 923h3v3h-3zM1628 923h4v3h-4zM1642 923h4v3h-4zM1656 923h4v3h-4zM1617 926h4v4h-4zM1632 926h3v4h-3zM1646 926h3v4h-3zM1660 926h3v4h-3zM1608 930h2v3h-2zM1621 930h4v3h-4zM1635 930h4v3h-4zM1649 930h4v3h-4zM1663 930h2v3h-2zM1610 933h4v4h-4zM1625 933h3v4h-3zM1639 933h3v4h-3zM1653 933h3v4h-3zM1614 937h3v3h-3zM1628 937h4v3h-4zM1642 937h4v3h-4zM1656 937h4v3h-4zM1617 940h4v4h-4zM1632 940h3v4h-3zM1646 940h3v4h-3zM1660 940h3v4h-3zM1608 944h2v4h-2zM1621 944h4v4h-4zM1635 944h4v4h-4zM1649 944h4v4h-4zM1663 944h2v4h-2zM1610 948h4v3h-4zM1625 948h3v3h-3zM1639 948h3v3h-3zM1653 948h3v3h-3zM1614 951h3v4h-3zM1628 951h4v4h-4zM1642 951h4v4h-4zM1656 951h4v4h-4zM1617 955h4v3h-4zM1632 955h3v3h-3zM1646 955h3v3h-3zM1660 955h3v3h-3zM1608 958h2v4h-2zM1621 958h4v4h-4zM1635 958h4v4h-4zM1649 958h4v4h-4zM1663 958h2v4h-2zM1610 962h4v4h-4zM1625 962h3v4h-3zM1639 962h3v4h-3zM1653 962h3v4h-3zM1614 966h3v1h-3zM1628 966h4v1h-4zM1642 966h4v1h-4zM1656 966h4v1h-4z" fill="#000"/>
<path d="M311 311h56v3h-56zM311 325h56v3h-56zM311 339h56v4h-56zM311 353h56v4h-56zM311 367h56v4h-56zM311 382h56v3h-56zM311 396h56v3h-56zM311 410h56v3h-56zM311 424h56v4h-56zM311 438h56v4h-56zM311 452h56v4h-56zM311 467h56v3h-56zM311 481h56v3h-56zM311 496h56v3h-56zM311 510h56v3h-56zM311 524h56v4h-56zM311 538h56v4h-56zM311 552h56v4h-56zM311 567h56v3h-56zM311 581h56v3h-56zM311 595h56v4h-56zM311 609h56v4h-56zM311 624h56v3h-56zM311 638h56v3h-56zM311 652h56v3h-56zM311 666h56v4h-56zM311 681h56v3h-56zM311 695h56v3h-56zM311 709h56v3h-56zM311 723h56v3h-56zM311 738h56v3h-56zM311 752h56v3h-56zM311 766h56v3h-56zM311 780h56v4h-56zM311 794h56v4h-56zM311 808h56v4h-56zM311 823h56v3h-56zM311 837h56v3h-56zM311 851h56v4h-56zM311 866h56v3h-56zM311 880h56v4h-56zM311 894h56v4h-56zM311 909h56v3h-56zM311 923h56v3h-56zM311 937h56v3h-56zM311 951h56v4h-56zM311 966h56v1h-56zM583 267h56v4h-56zM583 282h56v3h-56zM583 296h56v3h-56zM583 311h56v3h-56zM583 325h56v3h-56zM583 339h56v4h-56zM583 353h56v4h-56zM583 367h56v4h-56zM583 382h56v3h-56zM583 396h56v3h-56zM583 410h56v3h-56zM583 424h56v4h-56zM583 438h56v4h-56zM583 452h56v4h-56zM583 467h56v3h-56zM583 481h56v3h-56zM583 496h56v3h-56zM583 510h56v3h-56zM583 524h56v4h-56zM583 538h56v4h-56zM583 552h56v4h-56zM583 567h56v3h-56zM583 581h56v3h-56zM583 595h56v4h-56zM583 609h56v4h-56zM583 624h56v3h-56zM583 638h56v3h-56zM583 652h56v3h-56zM583 666h56v4h-56zM583 681h56v3h-56zM583 695h56v3h-56zM583 709h56v3h-56zM583 723h56v3h-56zM583 738h56v3h-56zM583 752h56v3h-56zM583 766h56v3h-56zM583 780h56v4h-56zM583 794h56v4h-56zM583 808h56v4h-56zM583 823h56v3h-56zM583 837h56v3h-56zM583 851h56v4h-56zM583 866h56v3h-56zM583 880h56v4h-56zM583 894h56v4h-56zM583 909h56v3h-56zM583 923h56v3h-56zM583 937h56v3h-56zM583 951h56v4h-56zM583 966h56v1h-56zM854 224h56v4h-56zM854 239h56v3h-56zM854 253h56v4h-56zM854 267h56v4h-56zM854 282h56v3h-56zM854 296h56v3h-56zM854 311h56v3h-56zM854 325h56v3h-56zM854 339h56v4h-56zM854 353h56v4h-56zM854 367h56v4h-56zM854 382h56v3h-56zM854 396h56v3h-56zM854 410h56v3h-56zM854 424h56v4h-56zM854 438h56v4h-56zM854 452h56v4h-56zM854 467h56v3h-56zM854 481h56v3h-56zM854 496h56v3h-56zM854 510h56v3h-56zM854 524h56v4h-56zM854 538h56v4h-56zM854 552h56v4h-56zM854 567h56v3h-56zM854 581h56v3h-56zM854 595h56v4h-56zM854 609h56v4h-56zM854 624h56v3h-56zM854 638h56v3h-56zM854 652h56v3h-56zM854 666h56v4h-56zM854 681h56v3h-56zM854 695h56v3h-56zM854 709h56v3h-56zM854 723h56v3h-56zM854 738h56v3h-56zM854 752h56v3h-56zM854 766h56v3h-56zM854 780h56v4h-56zM854 794h56v4h-56zM854 808h56v4h-56zM854 823h56v3h-56zM854 837h56v3h-56zM854 851h56v4h-56zM854 866h56v3h-56zM854 880h56v4h-56zM854 894h56v4h-56zM854 909h56v3h-56zM854 923h56v3h-56zM854 937h56v3h-56zM854 951h56v4h-56zM854 966h56v1h-56zM1126 168h56v3h-56zM1126 182h56v3h-56zM1126 196h56v3h-56zM1126 210h56v4h-56zM1126 224h56v4h-56zM1126 239h56v3h-56zM1126 253h56v4h-56zM1126 267h56v4h-56zM1126 282h56v3h-56zM1126 296h56v3h-56zM1126 311h56v3h-56zM1126 325h56v3h-56zM1126 339h56v4h-56zM1126 353h56v4h-56zM1126 367h56v4h-56zM1126 382h56v3h-56zM1126 396h56v3h-56zM1126 410h56v3h-56zM1126 424h56v4h-56zM1126 438h56v4h-56zM1126 452h56v4h-56zM1126 467h56v3h-56zM1126 481h56v3h-56zM1126 496h56v3h-56zM1126 510h56v3h-56zM1126 524h56v4h-56zM1126 538h56v4h-56zM1126 552h56v4h-56zM1126 567h56v3h-56zM1126 581h56v3h-56zM1126 595h56v4h-56zM1126 609h56v4h-56zM1126 624h56v3h-56zM1126 638h56v3h-56zM1126 652h56v3h-56zM1126 666h56v4h-56zM1126 681h56v3h-56zM1126 695h56v3h-56zM1126 709h56v3h-56zM1126 723h56v3h-56zM1126 738h56v3h-56zM1126 752h56v3h-56zM1126 766h56v3h-56zM1126 780h56v4h-56zM1126 794h56v4h-56zM1126 808h56v4h-56zM1126 823h56v3h-56zM1126 837h56v3h-56zM1126 851h56v4h-56zM1126 866h56v3h-56zM1126 880h56v4h-56zM1126 894h56v4h-56zM1126 909h56v3h-56zM1126 923h56v3h-56zM1126 937h56v3h-56zM1126 951h56v4h-56zM1126 966h56v1h-56zM1397 210h56v4h-56zM1397 224h56v4h-56zM1397 239h56v3h-56zM1397 253h56v4h-56zM1397 267h56v4h-56zM1397 282h56v3h-56zM1397 296h56v3h-56zM1397 311h56v3h-56zM1397 325h56v3h-56zM1397 339h56v4h-56zM1397 353h56v4h-56zM1397 367h56v4h-56zM1397 382h56v3h-56zM1397 396h56v3h-56zM1397 410h56v3h-56zM1397 424h56v4h-56zM1397 438h56v4h-56zM1397 452h56v4h-56zM1397 467h56v3h-56zM1397 481h56v3h-56zM1397 496h56v3h-56zM1397 510h56v3h-56zM1397 524h56v4h-56zM1397 538h56v4h-56zM1397 552h56v4h-56zM1397 567h56v3h-56zM1397 581h56v3h-56zM1397 595h56v4h-56zM1397 609h56v4h-56zM1397 624h56v3h-56zM1397 638h56v3h-56zM1397 652h56v3h-56zM1397 666h56v4h-56zM1397 681h56v3h-56zM1397 695h56v3h-56zM1397 709h56v3h-56zM1397 723h56v3h-56zM1397 738h56v3h-56zM1397 752h56v3h-56zM1397 766h56v3h-56zM1397 780h56v4h-56zM1397 794h56v4h-56zM1397 808h56v4h-56zM1397 823h56v3h-56zM1397 837h56v3h-56zM1397 851h56v4h-56zM1397 866h56v3h-56zM1397 880h56v4h-56zM1397 894h56v4h-56zM1397 909h56v3h-56zM1397 923h56v3h-56zM1397 937h56v3h-56zM1397 951h56v4h-56zM1397 966h56v1h-56zM1669 224h56v4h-56zM1669 239h56v3h-56zM1669 253h56v4h-56zM1669 267h56v4h-56zM1669 282h56v3h-56zM1669 296h56v3h-56zM1669 311h56v3h-56zM1669 325h56v3h-56zM1669 339h56v4h-56zM1669 353h56v4h-56zM1669 367h56v4h-56zM1669 382h56v3h-56zM1669 396h56v3h-56zM1669 410h56v3h-56zM1669 424h56v4h-56zM1669 438h56v4h-56zM1669 452h56v4h-56zM1669 467h56v3h-56zM1669 481h56v3h-56zM1669 496h56v3h-56zM1669 510h56v3h-56zM1669 524h56v4h-56zM1669 538h56v4h-56zM1669 552h56v4h-56zM1669 567h56v3h-56zM1669 581h56v3h-56zM1669 595h56v4h-56zM1669 609h56v4h-56zM1669 624h56v3h-56zM1669 638h56v3h-56zM1669 652h56v3h-56zM1669 666h56v4h-56zM1669 681h56v3h-56zM1669 695h56v3h-56zM1669 709h56v3h-56zM1669 723h56v3h-56zM1669 738h56v3h-56zM1669 752h56v3h-56zM1669 766h56v3h-56zM1669 780h56v4h-56zM1669 794h56v4h-56zM1669 808h56v4h-56zM1669 823h56v3h-56zM1669 837h56v3h-56zM1669 851h56v4h-56zM1669 866h56v3h-56zM1669 880h56v4h-56zM1669 894h56v4h-56zM1669 909h56v3h-56zM1669 923h56v3h-56zM1669 937h56v3h-56zM1669 951h56v4h-56zM1669 966h56v1h-56z" fill="#000"/>
<path d="M187 302h4v668h-4zM247 302h4v668h-4zM188 301h62v1h-62zM187 302h64v4h-64zM187 970h64v1h-64zM247 298h4v672h-4zM307 298h4v672h-4zM248 297h62v1h-62zM247 298h64v4h-64zM247 970h64v1h-64zM307 298h4v672h-4zM367 298h4v672h-4zM308 297h62v1h-62zM307 298h64v4h-64zM307 970h64v1h-64zM458 483h4v487h-4zM519 483h4v487h-4zM459 482h63v1h-63zM458 483h65v4h-65zM458 970h65v1h-65zM519 306h4v664h-4zM579 306h4v664h-4zM520 305h62v1h-62zM519 306h64v4h-64zM519 970h64v1h-64zM579 255h4v715h-4zM639 255h4v715h-4zM580 254h62v1h-62zM579 255h64v3h-64zM579 970h64v1h-64zM730 590h4v380h-4zM790 590h4v380h-4zM731 589h62v1h-62zM730 590h64v3h-64zM730 970h64v1h-64zM790 298h4v672h-4zM850 298h4v672h-4zM791 297h62v1h-62zM790 298h64v4h-64zM790 970h64v1h-64zM850 215h4v755h-4zM910 215h5v755h-5zM851 214h63v1h-63zM850 215h65v4h-65zM850 970h65v1h-65zM1001 659h4v311h-4zM1061 659h4v311h-4zM1002 658h62v1h-62zM1001 659h64v3h-64zM1001 970h64v1h-64zM1061 306h4v664h-4zM1122 306h4v664h-4zM1062 305h63v1h-63zM1061 306h65v4h-65zM1061 970h65v1h-65zM1122 163h4v807h-4zM1182 163h4v807h-4zM1123 162h62v1h-62zM1122 163h64v3h-64zM1122 970h64v1h-64zM1272 726h4v244h-4zM1332 726h5v244h-5zM1273 725h63v1h-63zM1272 726h65v3h-65zM1272 970h65v1h-65zM1332 291h5v679h-5zM1393 291h4v679h-4zM1333 290h63v1h-63zM1332 291h65v3h-65zM1332 970h65v1h-65zM1393 203h4v767h-4zM1453 203h4v767h-4zM1394 202h62v1h-62zM1393 203h64v4h-64zM1393 970h64v1h-64zM1544 765h4v205h-4zM1604 765h4v205h-4zM1545 764h62v1h-62zM1544 765h64v3h-64zM1544 970h64v1h-64zM1604 274h4v696h-4zM1665 274h4v696h-4zM1605 273h63v1h-63zM1604 274h65v4h-65zM1604 970h65v1h-65zM1665 215h4v755h-4zM1725 215h4v755h-4zM1666 214h62v1h-62zM1665 215h64v4h-64zM1665 970h64v1h-64z" fill="#4472C4"/>
<rect x="144" y="967" width="1628" height="3" fill="#BFBFBF"/>
<text class="tk" x="107.2" y="982" text-anchor="end">0</text>
<text class="tk" x="107.2" y="824.53" text-anchor="end">2</text>
<text class="tk" x="107.2" y="667.07" text-anchor="end">4</text>
<text class="tk" x="107.2" y="509.6" text-anchor="end">6</text>
<text class="tk" x="107.2" y="352.14" text-anchor="end">8</text>
<text class="tk" x="107.2" y="194.67" text-anchor="end">10</text>
<text class="tk" x="107.2" y="37.2" text-anchor="end">12</text>
<text class="tk" x="279.13" y="1032.6" text-anchor="middle">0</text>
<text class="tk" x="550.59" y="1032.6" text-anchor="middle">2</text>
<text class="tk" x="822.05" y="1032.6" text-anchor="middle">4</text>
<text class="tk" x="1093.51" y="1032.6" text-anchor="middle">6</text>
<text class="tk" x="1364.97" y="1032.6" text-anchor="middle">8</text>
<text class="tk" x="1636.43" y="1032.6" text-anchor="middle">10</text>
<text class="lt" x="201" y="203">b</text>
<text class="lt" x="258" y="203">b</text>
<text class="lt" x="320.4" y="203">b</text>
<text class="lt" x="456.8" y="381.7">c</text>
<text class="lt" x="525.4" y="203.1">b</text>
<text class="lt" x="590.8" y="157.05">ab</text>
<text class="lt" x="752.3" y="489.5">d</text>
<text class="lt" x="798.4" y="202.5">b</text>
<text class="la" x="877.8" y="114.6">a</text>
<text class="lt" x="1006" y="555.8">e</text>
<text class="lt" x="1068.7" y="203.2">b</text>
<text class="la" x="1143.1" y="48.5">a</text>
<text class="lt" x="1288.5" y="620">f</text>
<text class="lt" x="1327.8" y="199.25">ab</text>
<text class="la" x="1407" y="94.5">a</text>
<text class="lt" x="1549.1" y="621">g</text>
<text class="lt" x="1603.9" y="173.15">ab</text>
<text class="la" x="1669.5" y="114.95">a</text>
<text class="ti" x="856" y="1095.8">Time (h)</text>
<text class="ti" style="font-size:47.4px" transform="translate(40.9 757.9) rotate(-90)">Dissolved Oxygen (mg L<tspan font-size="32" dy="-14.2">-1</tspan><tspan dy="14.2">)</tspan></text>
<path d="M418 1143h4v4h-4zM418 1157h4v4h-4zM404 1150h3v4h-3zM721 1142h3v1h-3zM735 1142h3v1h-3zM724 1143h4v4h-4zM728 1147h3v3h-3zM731 1150h4v4h-4zM735 1154h3v3h-3zM718 1150h3v4h-3zM721 1154h3v3h-3zM724 1157h4v4h-4zM728 1161h3v2h-3zM1023 1150h21v4h-21z" fill="#000"/>
<path d="M403 1139h28v3h-28zM403 1163h28v4h-28zM403 1139h3v28h-3zM427 1139h4v28h-4zM714 1139h28v3h-28zM714 1163h28v4h-28zM714 1139h4v28h-4zM738 1139h4v28h-4zM1019 1139h29v3h-29zM1019 1163h29v4h-29zM1019 1139h4v28h-4zM1044 1139h4v28h-4z" fill="#4472C4"/>
<text class="ti" x="438.3" y="1166.9">Flooding</text>
<text class="ti" x="749.9" y="1166.7">Aeration</text>
<text class="ti" x="1086.6" y="1163.9">H<tspan font-size="31" dy="5">2</tspan><tspan dy="-5">O</tspan><tspan font-size="31" dy="5">2</tspan></text>
</svg>
</body></html>
